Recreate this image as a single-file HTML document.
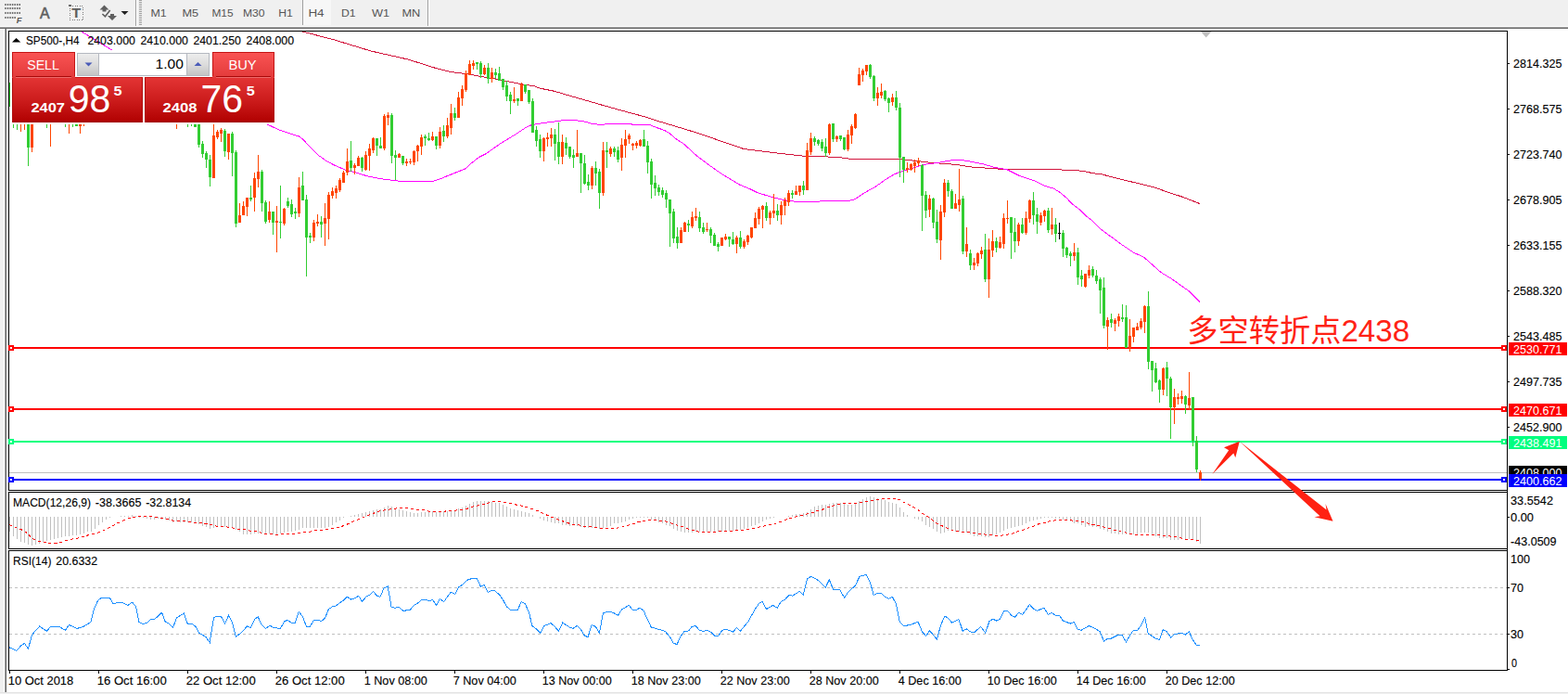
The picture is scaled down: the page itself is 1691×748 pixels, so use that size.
<!DOCTYPE html>
<html><head><meta charset="utf-8"><title>SP500-,H4</title>
<style>
html,body{margin:0;padding:0;background:#fff;overflow:hidden}
body{width:1691px;height:748px;font-family:"Liberation Sans",sans-serif}
svg{display:block;font-family:"Liberation Sans",sans-serif}
text{font-family:"Liberation Sans",sans-serif;white-space:pre}
</style></head><body>
<svg width="1691" height="748" viewBox="0 0 1691 748">
<g shape-rendering="crispEdges">
<rect x="0" y="0" width="1691" height="748" fill="#fff"/>
<rect x="0" y="0" width="1691" height="28" fill="#f0f0f0"/>
<rect x="0" y="29" width="4" height="719" fill="#f0f0f0"/>
<rect x="4" y="29" width="1" height="719" fill="#fff"/>
<rect x="5" y="29" width="1" height="719" fill="#a0a0a0"/>
<rect x="6" y="30" width="1" height="718" fill="#696969"/>
<rect x="0" y="28" width="1691" height="1" fill="#fbfbfb"/>
<rect x="0" y="29" width="1691" height="1" fill="#a0a0a0"/>
<rect x="0" y="30" width="1691" height="1" fill="#696969"/>
<rect x="0" y="746" width="1691" height="1" fill="#e3e3e3"/>
<rect x="0" y="747" width="1691" height="1" fill="#f0f0f0"/>
</g>
<g shape-rendering="crispEdges">
</g>
<path d="M5.2 5H22.6" stroke="#6e6e6e" stroke-width="2" stroke-dasharray="1.5 1.05" fill="none"/>
<path d="M5.2 9H22.6" stroke="#6e6e6e" stroke-width="2" stroke-dasharray="1.5 1.05" fill="none"/>
<path d="M5.2 14H22.6" stroke="#6e6e6e" stroke-width="2" stroke-dasharray="1.5 1.05" fill="none"/>
<path d="M5.2 19H17.4" stroke="#6e6e6e" stroke-width="2" stroke-dasharray="1.5 1.05" fill="none"/>
<g shape-rendering="crispEdges">
<path d="M75.5 6.5H89.5V21.5H75.5Z" stroke="#787878" stroke-dasharray="1 1.5" fill="none"/>
<rect x="74" y="5" width="3" height="2" fill="#6a6a6a"/>
<rect x="146" y="0" width="1" height="28" fill="#a0a0a0"/>
<rect x="147" y="0" width="1" height="28" fill="#fff"/>
<rect x="150" y="0" width="3" height="1" fill="#a0a0a0"/>
<rect x="150" y="2" width="3" height="1" fill="#a0a0a0"/>
<rect x="150" y="4" width="3" height="1" fill="#a0a0a0"/>
<rect x="150" y="6" width="3" height="1" fill="#a0a0a0"/>
<rect x="150" y="8" width="3" height="1" fill="#a0a0a0"/>
<rect x="150" y="10" width="3" height="1" fill="#a0a0a0"/>
<rect x="150" y="12" width="3" height="1" fill="#a0a0a0"/>
<rect x="150" y="14" width="3" height="1" fill="#a0a0a0"/>
<rect x="150" y="16" width="3" height="1" fill="#a0a0a0"/>
<rect x="150" y="18" width="3" height="1" fill="#a0a0a0"/>
<rect x="150" y="20" width="3" height="1" fill="#a0a0a0"/>
<rect x="150" y="22" width="3" height="1" fill="#a0a0a0"/>
<rect x="150" y="24" width="3" height="1" fill="#a0a0a0"/>
<rect x="150" y="26" width="3" height="1" fill="#a0a0a0"/>
<rect x="326" y="0" width="31" height="27" fill="#f7f7f7"/>
<rect x="326" y="0" width="1" height="27" fill="#a0a0a0"/>
<rect x="461" y="0" width="1" height="28" fill="#a0a0a0"/>
<rect x="462" y="0" width="1" height="28" fill="#fff"/>
</g>
<text x="17.8" y="24.7" font-size="9.4" fill="#555" font-weight="bold" font-style="italic">F</text>
<text x="43.1" y="19.7" font-size="15.8" fill="#5f5f5f" stroke="#5f5f5f" stroke-width="0.6">A</text>
<text x="77.3" y="19.2" font-size="14.5" fill="#5f5f5f" textLength="10" lengthAdjust="spacingAndGlyphs" font-weight="bold">T</text>
<path d="M112.5 5.5L117.5 10.5H114.5V12.5H110.5V10.5H107.5Z" fill="#5f5f5f"/>
<path d="M121 22L116 17H119V15H123V17H126Z" fill="#5f5f5f"/>
<path d="M110.4 15L113.4 17.8L118.7 11" stroke="#5f5f5f" stroke-width="1.6" fill="none"/>
<path d="M130.5 12H138.5L134.5 16Z" fill="#222"/>
<text x="162.4" y="18" font-size="11.7" fill="#555" textLength="17.2" lengthAdjust="spacingAndGlyphs">M1</text>
<text x="196.4" y="18" font-size="11.7" fill="#555" textLength="17.7" lengthAdjust="spacingAndGlyphs">M5</text>
<text x="228.4" y="18" font-size="11.7" fill="#555" textLength="23.2" lengthAdjust="spacingAndGlyphs">M15</text>
<text x="262.0" y="18" font-size="11.7" fill="#555" textLength="23.6" lengthAdjust="spacingAndGlyphs">M30</text>
<text x="300.2" y="18" font-size="11.7" fill="#555" textLength="15.6" lengthAdjust="spacingAndGlyphs">H1</text>
<text x="332.4" y="18" font-size="11.7" fill="#555" textLength="17.2" lengthAdjust="spacingAndGlyphs">H4</text>
<text x="367.9" y="18" font-size="11.7" fill="#555" textLength="15.7" lengthAdjust="spacingAndGlyphs">D1</text>
<text x="401.0" y="18" font-size="11.7" fill="#555" textLength="19.1" lengthAdjust="spacingAndGlyphs">W1</text>
<text x="433.4" y="18" font-size="11.7" fill="#555" textLength="19.9" lengthAdjust="spacingAndGlyphs">MN</text>
<g shape-rendering="crispEdges">
<path d="M9.5 33.5H1625.5V528.5H9.5Z" fill="none" stroke="#000"/>
<path d="M9.5 530.5H1625.5V591.5H9.5Z" fill="none" stroke="#000"/>
<path d="M9.5 593.5H1625.5V722.5H9.5Z" fill="none" stroke="#000"/>
</g>
<path d="M1295 34H1306.5L1300.7 40.5Z" fill="#c0c0c0"/>
<defs><clipPath id="cm"><rect x="10" y="34" width="1615" height="494"/></clipPath><clipPath id="c2"><rect x="10" y="531" width="1615" height="60"/></clipPath><clipPath id="c3"><rect x="10" y="594" width="1615" height="128"/></clipPath><linearGradient id="gs" x1="0" y1="0" x2="0" y2="1"><stop offset="0" stop-color="#fa5454"/><stop offset="1" stop-color="#e23a3a"/></linearGradient><linearGradient id="gp" x1="0" y1="0" x2="0" y2="1"><stop offset="0" stop-color="#e33434"/><stop offset="0.5" stop-color="#cc1c1c"/><stop offset="1" stop-color="#b00000"/></linearGradient><linearGradient id="gb" x1="0" y1="0" x2="0" y2="1"><stop offset="0" stop-color="#ededed"/><stop offset="0.5" stop-color="#dcdcdc"/><stop offset="1" stop-color="#c4c4c4"/></linearGradient></defs>
<g shape-rendering="crispEdges">
<rect x="10" y="509" width="1615" height="1" fill="#c0c0c0"/>
<rect x="10" y="374" width="1615" height="2" fill="#ff0000"/>
<rect x="9" y="372" width="6" height="6" fill="#ff0000"/>
<rect x="11" y="374" width="2" height="2" fill="#fff"/>
<rect x="1619" y="372" width="6" height="6" fill="#ff0000"/>
<rect x="1621" y="374" width="2" height="2" fill="#fff"/>
<rect x="10" y="440" width="1615" height="2" fill="#ff0000"/>
<rect x="9" y="438" width="6" height="6" fill="#ff0000"/>
<rect x="11" y="440" width="2" height="2" fill="#fff"/>
<rect x="1619" y="438" width="6" height="6" fill="#ff0000"/>
<rect x="1621" y="440" width="2" height="2" fill="#fff"/>
<rect x="10" y="475" width="1615" height="2" fill="#00ff7f"/>
<rect x="9" y="473" width="6" height="6" fill="#00ff7f"/>
<rect x="11" y="475" width="2" height="2" fill="#fff"/>
<rect x="1619" y="473" width="6" height="6" fill="#00ff7f"/>
<rect x="1621" y="475" width="2" height="2" fill="#fff"/>
<rect x="10" y="516" width="1615" height="2" fill="#0000ff"/>
<rect x="9" y="514" width="6" height="6" fill="#0000ff"/>
<rect x="11" y="516" width="2" height="2" fill="#fff"/>
<rect x="1619" y="514" width="6" height="6" fill="#0000ff"/>
<rect x="1621" y="516" width="2" height="2" fill="#fff"/>
<rect x="1625" y="33" width="1" height="690" fill="#000"/>
</g>
<g clip-path="url(#cm)">
<path d="M322 32 L326 34 L360 42.8 L400 55 L440 64 L470 73.5 L486 77.5 L502 79.5 L518 82.3 L534 85 L550 88.2 L566 91.4 L576 92.7 L582 95.1 L598 98.3 L614 103.1 L630 107.6 L646 112.3 L670 119 L694 125.5 L710 130.6 L726 135.4 L742 140.2 L756 144.6 L780 153 L802 160.5 L826 163.5 L850 166.4 L868 168.3 L900 169.2 L908 170 L918 171.5 L970 171.5 L980 172.5 L1000 174.9 L1014 176.1 L1030 177.3 L1050 180.3 L1070 181.5 L1080 182.3 L1144 182.3 L1146 183.5 L1160 183.5 L1170 184.9 L1180 186.9 L1188 187.8 L1200 191 L1216 194.9 L1232 198.8 L1246 202.3 L1260 207.3 L1274 211.8 L1286 216.4 L1294 219.6" fill="none" stroke="#d2143c" stroke-width="1" shape-rendering="crispEdges"/>
<path d="M285 132.5 L289 134.4 L301 140 L313 144 L322.5 147 L327 150.5 L335 159 L343.5 167.4 L352 173.6 L360.5 178 L372 183 L386 186.6 L396 189.8 L410 192.6 L426 194.7 L436 195.6 L450 195.6 L468 195.1 L476 192.3 L486 188.2 L494 185 L502 181.8 L508 176.2 L516 169.8 L524 165.7 L540 154.5 L556 144.8 L568 136.8 L574 134.4 L590 132 L606 129.9 L618 129.3 L630 131 L638 133.2 L646 134.3 L656 133.8 L664 133 L680 133 L682 134.3 L700 134.3 L708 137.5 L716 140.2 L722 143.5 L728 149 L738 155.5 L748 165 L756 171.5 L760 174.4 L770 181.7 L780 188.6 L790 194.5 L798 199.3 L808 203.3 L816 207.3 L826 210.5 L834 212.9 L846 215.7 L858 217.3 L876 217.3 L900 216.4 L916 216.4 L922 214.6 L934 206.8 L944 201.4 L954 194.2 L964 188.1 L970 185.5 L982 182.1 L992 178.5 L1000 176.7 L1012 175.5 L1020 173.7 L1030 172.3 L1036 172.3 L1044 173.7 L1060 176.7 L1072 180.3 L1086 182.8 L1092 185.8 L1100 189.7 L1110 193 L1116 194.9 L1124 199.1 L1130 201.4 L1136 203 L1142 206.6 L1150 213.1 L1156 219.6 L1164 225.5 L1172 233.3 L1178 237.9 L1186 246.2 L1198 255 L1210 263.9 L1222 271.9 L1234 277.5 L1242 284.7 L1252 293.6 L1264 300.8 L1274 308 L1282 313.6 L1294 325.6" fill="none" stroke="#ff00ff" stroke-width="1" shape-rendering="crispEdges"/>
<path d="M86 32 L88 34 L104 44 L120 53.5 L126 57" fill="none" stroke="#ff00ff" stroke-width="1" shape-rendering="crispEdges"/>
<g shape-rendering="crispEdges">
<rect x="10" y="89" width="1" height="26" fill="#32cd32"/>
<rect x="14" y="120" width="1" height="18" fill="#32cd32"/>
<rect x="13" y="125" width="3" height="9" fill="#32cd32"/>
<rect x="18" y="120" width="1" height="20" fill="#32cd32"/>
<rect x="17" y="125" width="3" height="9" fill="#32cd32"/>
<rect x="22" y="120" width="1" height="22" fill="#ff4500"/>
<rect x="21" y="125" width="3" height="9" fill="#ff4500"/>
<rect x="26" y="120" width="1" height="20" fill="#ff4500"/>
<rect x="25" y="125" width="3" height="9" fill="#ff4500"/>
<rect x="30" y="120" width="1" height="59" fill="#32cd32"/>
<rect x="29" y="125" width="3" height="34" fill="#32cd32"/>
<rect x="34" y="120" width="1" height="44" fill="#ff4500"/>
<rect x="33" y="125" width="3" height="34" fill="#ff4500"/>
<rect x="50" y="120" width="1" height="18" fill="#32cd32"/>
<rect x="49" y="125" width="3" height="9" fill="#32cd32"/>
<rect x="54" y="120" width="1" height="38" fill="#ff4500"/>
<rect x="53" y="125" width="3" height="9" fill="#ff4500"/>
<rect x="70" y="120" width="1" height="17" fill="#32cd32"/>
<rect x="69" y="125" width="3" height="9" fill="#32cd32"/>
<rect x="74" y="120" width="1" height="24" fill="#ff4500"/>
<rect x="73" y="125" width="3" height="9" fill="#ff4500"/>
<rect x="78" y="120" width="1" height="17" fill="#32cd32"/>
<rect x="77" y="125" width="3" height="9" fill="#32cd32"/>
<rect x="82" y="120" width="1" height="16" fill="#32cd32"/>
<rect x="81" y="125" width="3" height="11" fill="#32cd32"/>
<rect x="86" y="120" width="1" height="24" fill="#ff4500"/>
<rect x="85" y="125" width="3" height="11" fill="#ff4500"/>
<rect x="90" y="120" width="1" height="16" fill="#ff4500"/>
<rect x="89" y="125" width="3" height="9" fill="#ff4500"/>
<rect x="190" y="120" width="1" height="19" fill="#ff4500"/>
<rect x="189" y="125" width="3" height="9" fill="#ff4500"/>
<rect x="202" y="120" width="1" height="17" fill="#32cd32"/>
<rect x="201" y="125" width="3" height="9" fill="#32cd32"/>
<rect x="206" y="120" width="1" height="16" fill="#32cd32"/>
<rect x="205" y="125" width="3" height="9" fill="#32cd32"/>
<rect x="210" y="120" width="1" height="17" fill="#32cd32"/>
<rect x="209" y="125" width="3" height="12" fill="#32cd32"/>
<rect x="214" y="120" width="1" height="39" fill="#32cd32"/>
<rect x="213" y="125" width="3" height="31" fill="#32cd32"/>
<rect x="218" y="152" width="1" height="18" fill="#32cd32"/>
<rect x="217" y="155" width="3" height="11" fill="#32cd32"/>
<rect x="222" y="163" width="1" height="18" fill="#32cd32"/>
<rect x="221" y="165" width="3" height="7" fill="#32cd32"/>
<rect x="226" y="167" width="1" height="34" fill="#32cd32"/>
<rect x="225" y="172" width="3" height="19" fill="#32cd32"/>
<rect x="230" y="134" width="1" height="58" fill="#ff4500"/>
<rect x="229" y="146" width="3" height="46" fill="#ff4500"/>
<rect x="234" y="140" width="1" height="10" fill="#ff4500"/>
<rect x="233" y="142" width="3" height="6" fill="#ff4500"/>
<rect x="238" y="138" width="1" height="15" fill="#ff4500"/>
<rect x="237" y="140" width="3" height="4" fill="#ff4500"/>
<rect x="242" y="139" width="1" height="30" fill="#32cd32"/>
<rect x="241" y="141" width="3" height="22" fill="#32cd32"/>
<rect x="246" y="144" width="1" height="28" fill="#ff4500"/>
<rect x="245" y="144" width="3" height="20" fill="#ff4500"/>
<rect x="250" y="142" width="1" height="48" fill="#32cd32"/>
<rect x="249" y="144" width="3" height="21" fill="#32cd32"/>
<rect x="254" y="162" width="1" height="83" fill="#32cd32"/>
<rect x="253" y="164" width="3" height="77" fill="#32cd32"/>
<rect x="258" y="219" width="1" height="21" fill="#ff4500"/>
<rect x="257" y="232" width="3" height="8" fill="#ff4500"/>
<rect x="262" y="217" width="1" height="15" fill="#ff4500"/>
<rect x="261" y="222" width="3" height="10" fill="#ff4500"/>
<rect x="266" y="213" width="1" height="20" fill="#ff4500"/>
<rect x="265" y="213" width="3" height="10" fill="#ff4500"/>
<rect x="270" y="200" width="1" height="17" fill="#32cd32"/>
<rect x="269" y="213" width="3" height="2" fill="#32cd32"/>
<rect x="274" y="186" width="1" height="42" fill="#ff4500"/>
<rect x="273" y="192" width="3" height="21" fill="#ff4500"/>
<rect x="278" y="167" width="1" height="35" fill="#ff4500"/>
<rect x="277" y="185" width="3" height="8" fill="#ff4500"/>
<rect x="282" y="183" width="1" height="45" fill="#32cd32"/>
<rect x="281" y="185" width="3" height="34" fill="#32cd32"/>
<rect x="286" y="216" width="1" height="25" fill="#32cd32"/>
<rect x="285" y="218" width="3" height="21" fill="#32cd32"/>
<rect x="290" y="217" width="1" height="23" fill="#ff4500"/>
<rect x="289" y="228" width="3" height="9" fill="#ff4500"/>
<rect x="294" y="228" width="1" height="25" fill="#32cd32"/>
<rect x="293" y="228" width="3" height="12" fill="#32cd32"/>
<rect x="298" y="222" width="1" height="50" fill="#ff4500"/>
<rect x="297" y="238" width="3" height="2" fill="#ff4500"/>
<rect x="302" y="200" width="1" height="57" fill="#32cd32"/>
<rect x="301" y="239" width="3" height="1" fill="#32cd32"/>
<rect x="306" y="224" width="1" height="19" fill="#ff4500"/>
<rect x="305" y="225" width="3" height="16" fill="#ff4500"/>
<rect x="310" y="213" width="1" height="11" fill="#32cd32"/>
<rect x="309" y="217" width="3" height="5" fill="#32cd32"/>
<rect x="314" y="215" width="1" height="19" fill="#32cd32"/>
<rect x="313" y="220" width="3" height="11" fill="#32cd32"/>
<rect x="318" y="224" width="1" height="12" fill="#32cd32"/>
<rect x="317" y="228" width="3" height="2" fill="#32cd32"/>
<rect x="322" y="191" width="1" height="43" fill="#ff4500"/>
<rect x="321" y="202" width="3" height="28" fill="#ff4500"/>
<rect x="326" y="185" width="1" height="31" fill="#32cd32"/>
<rect x="325" y="200" width="3" height="16" fill="#32cd32"/>
<rect x="330" y="210" width="1" height="88" fill="#32cd32"/>
<rect x="329" y="215" width="3" height="41" fill="#32cd32"/>
<rect x="334" y="251" width="1" height="11" fill="#32cd32"/>
<rect x="333" y="254" width="3" height="2" fill="#32cd32"/>
<rect x="338" y="237" width="1" height="23" fill="#ff4500"/>
<rect x="337" y="240" width="3" height="16" fill="#ff4500"/>
<rect x="342" y="231" width="1" height="13" fill="#ff4500"/>
<rect x="341" y="239" width="3" height="2" fill="#ff4500"/>
<rect x="346" y="233" width="1" height="23" fill="#32cd32"/>
<rect x="345" y="239" width="3" height="3" fill="#32cd32"/>
<rect x="350" y="219" width="1" height="46" fill="#ff4500"/>
<rect x="349" y="235" width="3" height="6" fill="#ff4500"/>
<rect x="354" y="207" width="1" height="51" fill="#ff4500"/>
<rect x="353" y="210" width="3" height="26" fill="#ff4500"/>
<rect x="358" y="202" width="1" height="12" fill="#ff4500"/>
<rect x="357" y="206" width="3" height="5" fill="#ff4500"/>
<rect x="362" y="200" width="1" height="14" fill="#ff4500"/>
<rect x="361" y="203" width="3" height="5" fill="#ff4500"/>
<rect x="366" y="192" width="1" height="15" fill="#ff4500"/>
<rect x="365" y="194" width="3" height="11" fill="#ff4500"/>
<rect x="370" y="184" width="1" height="13" fill="#ff4500"/>
<rect x="369" y="186" width="3" height="11" fill="#ff4500"/>
<rect x="374" y="160" width="1" height="29" fill="#ff4500"/>
<rect x="373" y="174" width="3" height="12" fill="#ff4500"/>
<rect x="378" y="152" width="1" height="33" fill="#32cd32"/>
<rect x="377" y="173" width="3" height="8" fill="#32cd32"/>
<rect x="382" y="176" width="1" height="12" fill="#ff4500"/>
<rect x="381" y="178" width="3" height="3" fill="#ff4500"/>
<rect x="386" y="168" width="1" height="11" fill="#ff4500"/>
<rect x="385" y="170" width="3" height="9" fill="#ff4500"/>
<rect x="390" y="169" width="1" height="16" fill="#32cd32"/>
<rect x="389" y="170" width="3" height="11" fill="#32cd32"/>
<rect x="394" y="163" width="1" height="21" fill="#ff4500"/>
<rect x="393" y="167" width="3" height="16" fill="#ff4500"/>
<rect x="398" y="155" width="1" height="29" fill="#ff4500"/>
<rect x="397" y="160" width="3" height="8" fill="#ff4500"/>
<rect x="402" y="148" width="1" height="17" fill="#ff4500"/>
<rect x="401" y="149" width="3" height="13" fill="#ff4500"/>
<rect x="406" y="149" width="1" height="19" fill="#32cd32"/>
<rect x="405" y="149" width="3" height="8" fill="#32cd32"/>
<rect x="410" y="148" width="1" height="12" fill="#32cd32"/>
<rect x="409" y="157" width="3" height="3" fill="#32cd32"/>
<rect x="414" y="123" width="1" height="39" fill="#ff4500"/>
<rect x="413" y="125" width="3" height="35" fill="#ff4500"/>
<rect x="418" y="121" width="1" height="14" fill="#ff4500"/>
<rect x="417" y="124" width="3" height="3" fill="#ff4500"/>
<rect x="422" y="122" width="1" height="54" fill="#32cd32"/>
<rect x="421" y="124" width="3" height="44" fill="#32cd32"/>
<rect x="426" y="162" width="1" height="32" fill="#32cd32"/>
<rect x="425" y="167" width="3" height="3" fill="#32cd32"/>
<rect x="430" y="165" width="1" height="5" fill="#ff4500"/>
<rect x="429" y="166" width="3" height="4" fill="#ff4500"/>
<rect x="434" y="168" width="1" height="10" fill="#32cd32"/>
<rect x="433" y="168" width="3" height="8" fill="#32cd32"/>
<rect x="438" y="171" width="1" height="8" fill="#ff4500"/>
<rect x="437" y="174" width="3" height="2" fill="#ff4500"/>
<rect x="442" y="171" width="1" height="6" fill="#ff4500"/>
<rect x="441" y="174" width="3" height="1" fill="#ff4500"/>
<rect x="446" y="162" width="1" height="16" fill="#ff4500"/>
<rect x="445" y="163" width="3" height="12" fill="#ff4500"/>
<rect x="450" y="156" width="1" height="18" fill="#ff4500"/>
<rect x="449" y="157" width="3" height="6" fill="#ff4500"/>
<rect x="454" y="145" width="1" height="22" fill="#ff4500"/>
<rect x="453" y="148" width="3" height="10" fill="#ff4500"/>
<rect x="458" y="145" width="1" height="12" fill="#32cd32"/>
<rect x="457" y="147" width="3" height="2" fill="#32cd32"/>
<rect x="462" y="143" width="1" height="9" fill="#32cd32"/>
<rect x="461" y="149" width="3" height="2" fill="#32cd32"/>
<rect x="466" y="142" width="1" height="10" fill="#ff4500"/>
<rect x="465" y="147" width="3" height="4" fill="#ff4500"/>
<rect x="470" y="147" width="1" height="14" fill="#32cd32"/>
<rect x="469" y="147" width="3" height="10" fill="#32cd32"/>
<rect x="474" y="137" width="1" height="23" fill="#ff4500"/>
<rect x="473" y="142" width="3" height="15" fill="#ff4500"/>
<rect x="478" y="135" width="1" height="18" fill="#32cd32"/>
<rect x="477" y="141" width="3" height="6" fill="#32cd32"/>
<rect x="482" y="127" width="1" height="22" fill="#ff4500"/>
<rect x="481" y="135" width="3" height="12" fill="#ff4500"/>
<rect x="486" y="112" width="1" height="33" fill="#ff4500"/>
<rect x="485" y="122" width="3" height="16" fill="#ff4500"/>
<rect x="490" y="116" width="1" height="14" fill="#32cd32"/>
<rect x="489" y="122" width="3" height="5" fill="#32cd32"/>
<rect x="494" y="99" width="1" height="28" fill="#ff4500"/>
<rect x="493" y="105" width="3" height="22" fill="#ff4500"/>
<rect x="498" y="92" width="1" height="22" fill="#ff4500"/>
<rect x="497" y="96" width="3" height="10" fill="#ff4500"/>
<rect x="502" y="76" width="1" height="23" fill="#ff4500"/>
<rect x="501" y="79" width="3" height="18" fill="#ff4500"/>
<rect x="506" y="65" width="1" height="16" fill="#ff4500"/>
<rect x="505" y="69" width="3" height="12" fill="#ff4500"/>
<rect x="510" y="65" width="1" height="10" fill="#ff4500"/>
<rect x="509" y="68" width="3" height="3" fill="#ff4500"/>
<rect x="514" y="67" width="1" height="8" fill="#32cd32"/>
<rect x="513" y="67" width="3" height="2" fill="#32cd32"/>
<rect x="518" y="66" width="1" height="18" fill="#32cd32"/>
<rect x="517" y="68" width="3" height="12" fill="#32cd32"/>
<rect x="522" y="70" width="1" height="11" fill="#ff4500"/>
<rect x="521" y="73" width="3" height="7" fill="#ff4500"/>
<rect x="526" y="68" width="1" height="22" fill="#32cd32"/>
<rect x="525" y="73" width="3" height="12" fill="#32cd32"/>
<rect x="530" y="73" width="1" height="16" fill="#ff4500"/>
<rect x="529" y="78" width="3" height="7" fill="#ff4500"/>
<rect x="534" y="74" width="1" height="11" fill="#32cd32"/>
<rect x="533" y="78" width="3" height="3" fill="#32cd32"/>
<rect x="538" y="72" width="1" height="15" fill="#32cd32"/>
<rect x="537" y="79" width="3" height="8" fill="#32cd32"/>
<rect x="542" y="85" width="1" height="12" fill="#32cd32"/>
<rect x="541" y="85" width="3" height="9" fill="#32cd32"/>
<rect x="546" y="87" width="1" height="22" fill="#32cd32"/>
<rect x="545" y="92" width="3" height="12" fill="#32cd32"/>
<rect x="550" y="99" width="1" height="24" fill="#32cd32"/>
<rect x="549" y="102" width="3" height="7" fill="#32cd32"/>
<rect x="554" y="94" width="1" height="17" fill="#ff4500"/>
<rect x="553" y="107" width="3" height="2" fill="#ff4500"/>
<rect x="558" y="106" width="1" height="8" fill="#32cd32"/>
<rect x="557" y="106" width="3" height="3" fill="#32cd32"/>
<rect x="562" y="89" width="1" height="20" fill="#ff4500"/>
<rect x="561" y="91" width="3" height="18" fill="#ff4500"/>
<rect x="566" y="91" width="1" height="10" fill="#32cd32"/>
<rect x="565" y="91" width="3" height="8" fill="#32cd32"/>
<rect x="570" y="97" width="1" height="15" fill="#32cd32"/>
<rect x="569" y="97" width="3" height="13" fill="#32cd32"/>
<rect x="574" y="106" width="1" height="37" fill="#32cd32"/>
<rect x="573" y="109" width="3" height="34" fill="#32cd32"/>
<rect x="578" y="136" width="1" height="22" fill="#32cd32"/>
<rect x="577" y="140" width="3" height="12" fill="#32cd32"/>
<rect x="582" y="145" width="1" height="25" fill="#32cd32"/>
<rect x="581" y="150" width="3" height="13" fill="#32cd32"/>
<rect x="586" y="148" width="1" height="26" fill="#ff4500"/>
<rect x="585" y="149" width="3" height="14" fill="#ff4500"/>
<rect x="590" y="143" width="1" height="15" fill="#ff4500"/>
<rect x="589" y="148" width="3" height="2" fill="#ff4500"/>
<rect x="594" y="138" width="1" height="20" fill="#ff4500"/>
<rect x="593" y="145" width="3" height="4" fill="#ff4500"/>
<rect x="598" y="139" width="1" height="34" fill="#32cd32"/>
<rect x="597" y="145" width="3" height="10" fill="#32cd32"/>
<rect x="602" y="132" width="1" height="45" fill="#32cd32"/>
<rect x="601" y="153" width="3" height="16" fill="#32cd32"/>
<rect x="606" y="145" width="1" height="32" fill="#ff4500"/>
<rect x="605" y="153" width="3" height="16" fill="#ff4500"/>
<rect x="610" y="148" width="1" height="19" fill="#32cd32"/>
<rect x="609" y="154" width="3" height="6" fill="#32cd32"/>
<rect x="614" y="158" width="1" height="13" fill="#32cd32"/>
<rect x="613" y="158" width="3" height="11" fill="#32cd32"/>
<rect x="618" y="161" width="1" height="20" fill="#32cd32"/>
<rect x="617" y="167" width="3" height="3" fill="#32cd32"/>
<rect x="622" y="140" width="1" height="29" fill="#ff4500"/>
<rect x="621" y="165" width="3" height="4" fill="#ff4500"/>
<rect x="626" y="165" width="1" height="43" fill="#32cd32"/>
<rect x="625" y="165" width="3" height="11" fill="#32cd32"/>
<rect x="630" y="167" width="1" height="32" fill="#32cd32"/>
<rect x="629" y="176" width="3" height="22" fill="#32cd32"/>
<rect x="634" y="188" width="1" height="17" fill="#32cd32"/>
<rect x="633" y="196" width="3" height="4" fill="#32cd32"/>
<rect x="638" y="179" width="1" height="25" fill="#ff4500"/>
<rect x="637" y="181" width="3" height="19" fill="#ff4500"/>
<rect x="642" y="174" width="1" height="26" fill="#32cd32"/>
<rect x="641" y="181" width="3" height="6" fill="#32cd32"/>
<rect x="646" y="182" width="1" height="43" fill="#32cd32"/>
<rect x="645" y="185" width="3" height="23" fill="#32cd32"/>
<rect x="650" y="153" width="1" height="58" fill="#ff4500"/>
<rect x="649" y="162" width="3" height="46" fill="#ff4500"/>
<rect x="654" y="153" width="1" height="28" fill="#32cd32"/>
<rect x="653" y="162" width="3" height="2" fill="#32cd32"/>
<rect x="658" y="158" width="1" height="11" fill="#ff4500"/>
<rect x="657" y="160" width="3" height="6" fill="#ff4500"/>
<rect x="662" y="158" width="1" height="11" fill="#32cd32"/>
<rect x="661" y="160" width="3" height="4" fill="#32cd32"/>
<rect x="666" y="158" width="1" height="17" fill="#32cd32"/>
<rect x="665" y="162" width="3" height="10" fill="#32cd32"/>
<rect x="670" y="149" width="1" height="35" fill="#ff4500"/>
<rect x="669" y="156" width="3" height="14" fill="#ff4500"/>
<rect x="674" y="140" width="1" height="30" fill="#ff4500"/>
<rect x="673" y="150" width="3" height="7" fill="#ff4500"/>
<rect x="678" y="144" width="1" height="11" fill="#ff4500"/>
<rect x="677" y="146" width="3" height="4" fill="#ff4500"/>
<rect x="682" y="154" width="1" height="8" fill="#ff4500"/>
<rect x="681" y="155" width="3" height="2" fill="#ff4500"/>
<rect x="686" y="152" width="1" height="8" fill="#ff4500"/>
<rect x="685" y="154" width="3" height="3" fill="#ff4500"/>
<rect x="690" y="150" width="1" height="8" fill="#ff4500"/>
<rect x="689" y="151" width="3" height="6" fill="#ff4500"/>
<rect x="694" y="140" width="1" height="18" fill="#32cd32"/>
<rect x="693" y="150" width="3" height="8" fill="#32cd32"/>
<rect x="698" y="152" width="1" height="35" fill="#32cd32"/>
<rect x="697" y="157" width="3" height="18" fill="#32cd32"/>
<rect x="702" y="171" width="1" height="43" fill="#32cd32"/>
<rect x="701" y="174" width="3" height="25" fill="#32cd32"/>
<rect x="706" y="189" width="1" height="22" fill="#32cd32"/>
<rect x="705" y="197" width="3" height="6" fill="#32cd32"/>
<rect x="710" y="199" width="1" height="12" fill="#32cd32"/>
<rect x="709" y="202" width="3" height="5" fill="#32cd32"/>
<rect x="714" y="202" width="1" height="11" fill="#32cd32"/>
<rect x="713" y="205" width="3" height="5" fill="#32cd32"/>
<rect x="718" y="205" width="1" height="19" fill="#32cd32"/>
<rect x="717" y="208" width="3" height="7" fill="#32cd32"/>
<rect x="722" y="215" width="1" height="51" fill="#32cd32"/>
<rect x="721" y="215" width="3" height="15" fill="#32cd32"/>
<rect x="726" y="225" width="1" height="37" fill="#32cd32"/>
<rect x="725" y="228" width="3" height="29" fill="#32cd32"/>
<rect x="730" y="245" width="1" height="23" fill="#32cd32"/>
<rect x="729" y="255" width="3" height="7" fill="#32cd32"/>
<rect x="734" y="245" width="1" height="17" fill="#ff4500"/>
<rect x="733" y="248" width="3" height="14" fill="#ff4500"/>
<rect x="738" y="239" width="1" height="11" fill="#ff4500"/>
<rect x="737" y="240" width="3" height="10" fill="#ff4500"/>
<rect x="742" y="237" width="1" height="13" fill="#32cd32"/>
<rect x="741" y="241" width="3" height="2" fill="#32cd32"/>
<rect x="746" y="228" width="1" height="18" fill="#ff4500"/>
<rect x="745" y="234" width="3" height="10" fill="#ff4500"/>
<rect x="750" y="224" width="1" height="14" fill="#ff4500"/>
<rect x="749" y="233" width="3" height="2" fill="#ff4500"/>
<rect x="754" y="228" width="1" height="22" fill="#32cd32"/>
<rect x="753" y="234" width="3" height="12" fill="#32cd32"/>
<rect x="758" y="240" width="1" height="12" fill="#32cd32"/>
<rect x="757" y="245" width="3" height="5" fill="#32cd32"/>
<rect x="762" y="240" width="1" height="10" fill="#ff4500"/>
<rect x="761" y="247" width="3" height="1" fill="#ff4500"/>
<rect x="766" y="245" width="1" height="17" fill="#32cd32"/>
<rect x="765" y="247" width="3" height="7" fill="#32cd32"/>
<rect x="770" y="251" width="1" height="14" fill="#32cd32"/>
<rect x="769" y="253" width="3" height="12" fill="#32cd32"/>
<rect x="774" y="261" width="1" height="10" fill="#32cd32"/>
<rect x="773" y="263" width="3" height="3" fill="#32cd32"/>
<rect x="778" y="256" width="1" height="9" fill="#ff4500"/>
<rect x="777" y="256" width="3" height="9" fill="#ff4500"/>
<rect x="782" y="252" width="1" height="7" fill="#ff4500"/>
<rect x="781" y="255" width="3" height="3" fill="#ff4500"/>
<rect x="786" y="255" width="1" height="11" fill="#32cd32"/>
<rect x="785" y="255" width="3" height="3" fill="#32cd32"/>
<rect x="790" y="250" width="1" height="14" fill="#32cd32"/>
<rect x="789" y="258" width="3" height="5" fill="#32cd32"/>
<rect x="794" y="254" width="1" height="19" fill="#ff4500"/>
<rect x="793" y="256" width="3" height="7" fill="#ff4500"/>
<rect x="798" y="249" width="1" height="19" fill="#32cd32"/>
<rect x="797" y="256" width="3" height="10" fill="#32cd32"/>
<rect x="802" y="258" width="1" height="10" fill="#ff4500"/>
<rect x="801" y="260" width="3" height="6" fill="#ff4500"/>
<rect x="806" y="253" width="1" height="11" fill="#ff4500"/>
<rect x="805" y="254" width="3" height="7" fill="#ff4500"/>
<rect x="810" y="245" width="1" height="12" fill="#ff4500"/>
<rect x="809" y="245" width="3" height="11" fill="#ff4500"/>
<rect x="814" y="229" width="1" height="17" fill="#ff4500"/>
<rect x="813" y="235" width="3" height="11" fill="#ff4500"/>
<rect x="818" y="223" width="1" height="19" fill="#ff4500"/>
<rect x="817" y="225" width="3" height="11" fill="#ff4500"/>
<rect x="822" y="221" width="1" height="25" fill="#ff4500"/>
<rect x="821" y="222" width="3" height="4" fill="#ff4500"/>
<rect x="826" y="218" width="1" height="20" fill="#32cd32"/>
<rect x="825" y="222" width="3" height="13" fill="#32cd32"/>
<rect x="830" y="227" width="1" height="15" fill="#ff4500"/>
<rect x="829" y="229" width="3" height="6" fill="#ff4500"/>
<rect x="834" y="209" width="1" height="26" fill="#ff4500"/>
<rect x="833" y="227" width="3" height="3" fill="#ff4500"/>
<rect x="838" y="220" width="1" height="18" fill="#32cd32"/>
<rect x="837" y="227" width="3" height="5" fill="#32cd32"/>
<rect x="842" y="217" width="1" height="25" fill="#ff4500"/>
<rect x="841" y="221" width="3" height="11" fill="#ff4500"/>
<rect x="846" y="213" width="1" height="19" fill="#ff4500"/>
<rect x="845" y="216" width="3" height="6" fill="#ff4500"/>
<rect x="850" y="205" width="1" height="17" fill="#ff4500"/>
<rect x="849" y="208" width="3" height="10" fill="#ff4500"/>
<rect x="854" y="205" width="1" height="9" fill="#32cd32"/>
<rect x="853" y="208" width="3" height="2" fill="#32cd32"/>
<rect x="858" y="200" width="1" height="10" fill="#ff4500"/>
<rect x="857" y="206" width="3" height="4" fill="#ff4500"/>
<rect x="862" y="200" width="1" height="11" fill="#ff4500"/>
<rect x="861" y="200" width="3" height="7" fill="#ff4500"/>
<rect x="866" y="195" width="1" height="15" fill="#32cd32"/>
<rect x="865" y="200" width="3" height="5" fill="#32cd32"/>
<rect x="870" y="154" width="1" height="51" fill="#ff4500"/>
<rect x="869" y="162" width="3" height="43" fill="#ff4500"/>
<rect x="874" y="143" width="1" height="24" fill="#ff4500"/>
<rect x="873" y="149" width="3" height="15" fill="#ff4500"/>
<rect x="878" y="147" width="1" height="10" fill="#32cd32"/>
<rect x="877" y="149" width="3" height="4" fill="#32cd32"/>
<rect x="882" y="150" width="1" height="7" fill="#32cd32"/>
<rect x="881" y="151" width="3" height="4" fill="#32cd32"/>
<rect x="886" y="150" width="1" height="13" fill="#32cd32"/>
<rect x="885" y="153" width="3" height="7" fill="#32cd32"/>
<rect x="890" y="149" width="1" height="20" fill="#32cd32"/>
<rect x="889" y="158" width="3" height="7" fill="#32cd32"/>
<rect x="894" y="133" width="1" height="34" fill="#ff4500"/>
<rect x="893" y="134" width="3" height="31" fill="#ff4500"/>
<rect x="898" y="133" width="1" height="20" fill="#32cd32"/>
<rect x="897" y="133" width="3" height="17" fill="#32cd32"/>
<rect x="902" y="146" width="1" height="7" fill="#ff4500"/>
<rect x="901" y="147" width="3" height="3" fill="#ff4500"/>
<rect x="906" y="146" width="1" height="6" fill="#32cd32"/>
<rect x="905" y="146" width="3" height="4" fill="#32cd32"/>
<rect x="910" y="148" width="1" height="14" fill="#32cd32"/>
<rect x="909" y="148" width="3" height="13" fill="#32cd32"/>
<rect x="914" y="140" width="1" height="23" fill="#ff4500"/>
<rect x="913" y="145" width="3" height="16" fill="#ff4500"/>
<rect x="918" y="134" width="1" height="21" fill="#ff4500"/>
<rect x="917" y="136" width="3" height="10" fill="#ff4500"/>
<rect x="922" y="122" width="1" height="17" fill="#ff4500"/>
<rect x="921" y="123" width="3" height="15" fill="#ff4500"/>
<rect x="926" y="73" width="1" height="19" fill="#ff4500"/>
<rect x="925" y="80" width="3" height="12" fill="#ff4500"/>
<rect x="930" y="74" width="1" height="14" fill="#ff4500"/>
<rect x="929" y="76" width="3" height="5" fill="#ff4500"/>
<rect x="934" y="70" width="1" height="11" fill="#ff4500"/>
<rect x="933" y="70" width="3" height="7" fill="#ff4500"/>
<rect x="938" y="69" width="1" height="16" fill="#32cd32"/>
<rect x="937" y="70" width="3" height="13" fill="#32cd32"/>
<rect x="942" y="81" width="1" height="28" fill="#32cd32"/>
<rect x="941" y="82" width="3" height="24" fill="#32cd32"/>
<rect x="946" y="94" width="1" height="20" fill="#ff4500"/>
<rect x="945" y="100" width="3" height="6" fill="#ff4500"/>
<rect x="950" y="90" width="1" height="16" fill="#ff4500"/>
<rect x="949" y="99" width="3" height="4" fill="#ff4500"/>
<rect x="954" y="97" width="1" height="12" fill="#32cd32"/>
<rect x="953" y="98" width="3" height="9" fill="#32cd32"/>
<rect x="958" y="105" width="1" height="16" fill="#32cd32"/>
<rect x="957" y="106" width="3" height="5" fill="#32cd32"/>
<rect x="962" y="101" width="1" height="13" fill="#ff4500"/>
<rect x="961" y="105" width="3" height="5" fill="#ff4500"/>
<rect x="966" y="98" width="1" height="21" fill="#32cd32"/>
<rect x="965" y="105" width="3" height="11" fill="#32cd32"/>
<rect x="970" y="111" width="1" height="80" fill="#32cd32"/>
<rect x="969" y="116" width="3" height="54" fill="#32cd32"/>
<rect x="974" y="169" width="1" height="28" fill="#32cd32"/>
<rect x="973" y="169" width="3" height="14" fill="#32cd32"/>
<rect x="978" y="175" width="1" height="11" fill="#ff4500"/>
<rect x="977" y="181" width="3" height="2" fill="#ff4500"/>
<rect x="982" y="176" width="1" height="8" fill="#ff4500"/>
<rect x="981" y="177" width="3" height="6" fill="#ff4500"/>
<rect x="986" y="172" width="1" height="14" fill="#ff4500"/>
<rect x="985" y="175" width="3" height="4" fill="#ff4500"/>
<rect x="990" y="170" width="1" height="9" fill="#ff4500"/>
<rect x="989" y="173" width="3" height="3" fill="#ff4500"/>
<rect x="994" y="177" width="1" height="72" fill="#32cd32"/>
<rect x="993" y="178" width="3" height="33" fill="#32cd32"/>
<rect x="998" y="206" width="1" height="29" fill="#32cd32"/>
<rect x="997" y="210" width="3" height="17" fill="#32cd32"/>
<rect x="1002" y="210" width="1" height="24" fill="#ff4500"/>
<rect x="1001" y="214" width="3" height="12" fill="#ff4500"/>
<rect x="1006" y="213" width="1" height="33" fill="#32cd32"/>
<rect x="1005" y="214" width="3" height="26" fill="#32cd32"/>
<rect x="1010" y="226" width="1" height="36" fill="#32cd32"/>
<rect x="1009" y="239" width="3" height="19" fill="#32cd32"/>
<rect x="1014" y="221" width="1" height="59" fill="#ff4500"/>
<rect x="1013" y="228" width="3" height="31" fill="#ff4500"/>
<rect x="1018" y="193" width="1" height="41" fill="#ff4500"/>
<rect x="1017" y="197" width="3" height="32" fill="#ff4500"/>
<rect x="1022" y="194" width="1" height="18" fill="#32cd32"/>
<rect x="1021" y="197" width="3" height="9" fill="#32cd32"/>
<rect x="1026" y="204" width="1" height="21" fill="#32cd32"/>
<rect x="1025" y="206" width="3" height="19" fill="#32cd32"/>
<rect x="1030" y="209" width="1" height="16" fill="#ff4500"/>
<rect x="1029" y="219" width="3" height="6" fill="#ff4500"/>
<rect x="1034" y="182" width="1" height="46" fill="#ff4500"/>
<rect x="1033" y="215" width="3" height="6" fill="#ff4500"/>
<rect x="1038" y="211" width="1" height="63" fill="#32cd32"/>
<rect x="1037" y="214" width="3" height="57" fill="#32cd32"/>
<rect x="1042" y="245" width="1" height="32" fill="#ff4500"/>
<rect x="1041" y="263" width="3" height="8" fill="#ff4500"/>
<rect x="1046" y="269" width="1" height="22" fill="#32cd32"/>
<rect x="1045" y="273" width="3" height="13" fill="#32cd32"/>
<rect x="1050" y="278" width="1" height="13" fill="#ff4500"/>
<rect x="1049" y="283" width="3" height="3" fill="#ff4500"/>
<rect x="1054" y="272" width="1" height="15" fill="#ff4500"/>
<rect x="1053" y="273" width="3" height="11" fill="#ff4500"/>
<rect x="1058" y="266" width="1" height="13" fill="#ff4500"/>
<rect x="1057" y="270" width="3" height="4" fill="#ff4500"/>
<rect x="1062" y="252" width="1" height="52" fill="#32cd32"/>
<rect x="1061" y="269" width="3" height="32" fill="#32cd32"/>
<rect x="1066" y="257" width="1" height="64" fill="#ff4500"/>
<rect x="1065" y="269" width="3" height="32" fill="#ff4500"/>
<rect x="1070" y="248" width="1" height="29" fill="#ff4500"/>
<rect x="1069" y="260" width="3" height="10" fill="#ff4500"/>
<rect x="1074" y="256" width="1" height="16" fill="#32cd32"/>
<rect x="1073" y="260" width="3" height="7" fill="#32cd32"/>
<rect x="1078" y="255" width="1" height="13" fill="#ff4500"/>
<rect x="1077" y="261" width="3" height="6" fill="#ff4500"/>
<rect x="1082" y="230" width="1" height="38" fill="#ff4500"/>
<rect x="1081" y="235" width="3" height="28" fill="#ff4500"/>
<rect x="1086" y="216" width="1" height="25" fill="#ff4500"/>
<rect x="1085" y="235" width="3" height="1" fill="#ff4500"/>
<rect x="1090" y="234" width="1" height="45" fill="#32cd32"/>
<rect x="1089" y="234" width="3" height="17" fill="#32cd32"/>
<rect x="1094" y="235" width="1" height="37" fill="#32cd32"/>
<rect x="1093" y="250" width="3" height="10" fill="#32cd32"/>
<rect x="1098" y="240" width="1" height="25" fill="#ff4500"/>
<rect x="1097" y="242" width="3" height="18" fill="#ff4500"/>
<rect x="1102" y="235" width="1" height="17" fill="#32cd32"/>
<rect x="1101" y="242" width="3" height="9" fill="#32cd32"/>
<rect x="1106" y="228" width="1" height="25" fill="#ff4500"/>
<rect x="1105" y="235" width="3" height="16" fill="#ff4500"/>
<rect x="1110" y="215" width="1" height="25" fill="#ff4500"/>
<rect x="1109" y="216" width="3" height="20" fill="#ff4500"/>
<rect x="1114" y="207" width="1" height="35" fill="#32cd32"/>
<rect x="1113" y="216" width="3" height="16" fill="#32cd32"/>
<rect x="1118" y="224" width="1" height="28" fill="#32cd32"/>
<rect x="1117" y="231" width="3" height="8" fill="#32cd32"/>
<rect x="1122" y="229" width="1" height="14" fill="#ff4500"/>
<rect x="1121" y="232" width="3" height="8" fill="#ff4500"/>
<rect x="1126" y="226" width="1" height="13" fill="#ff4500"/>
<rect x="1125" y="227" width="3" height="6" fill="#ff4500"/>
<rect x="1130" y="224" width="1" height="27" fill="#32cd32"/>
<rect x="1129" y="227" width="3" height="21" fill="#32cd32"/>
<rect x="1134" y="224" width="1" height="29" fill="#ff4500"/>
<rect x="1133" y="242" width="3" height="5" fill="#ff4500"/>
<rect x="1138" y="235" width="1" height="26" fill="#32cd32"/>
<rect x="1137" y="242" width="3" height="10" fill="#32cd32"/>
<rect x="1142" y="240" width="1" height="18" fill="#000"/>
<rect x="1141" y="251" width="3" height="1" fill="#000"/>
<rect x="1146" y="248" width="1" height="29" fill="#32cd32"/>
<rect x="1145" y="251" width="3" height="17" fill="#32cd32"/>
<rect x="1150" y="266" width="1" height="12" fill="#32cd32"/>
<rect x="1149" y="267" width="3" height="8" fill="#32cd32"/>
<rect x="1154" y="271" width="1" height="16" fill="#32cd32"/>
<rect x="1153" y="273" width="3" height="3" fill="#32cd32"/>
<rect x="1158" y="262" width="1" height="19" fill="#ff4500"/>
<rect x="1157" y="272" width="3" height="4" fill="#ff4500"/>
<rect x="1162" y="267" width="1" height="40" fill="#32cd32"/>
<rect x="1161" y="272" width="3" height="27" fill="#32cd32"/>
<rect x="1166" y="291" width="1" height="18" fill="#32cd32"/>
<rect x="1165" y="297" width="3" height="4" fill="#32cd32"/>
<rect x="1170" y="295" width="1" height="15" fill="#ff4500"/>
<rect x="1169" y="295" width="3" height="14" fill="#ff4500"/>
<rect x="1174" y="286" width="1" height="14" fill="#ff4500"/>
<rect x="1173" y="291" width="3" height="6" fill="#ff4500"/>
<rect x="1178" y="287" width="1" height="12" fill="#32cd32"/>
<rect x="1177" y="290" width="3" height="7" fill="#32cd32"/>
<rect x="1182" y="291" width="1" height="15" fill="#32cd32"/>
<rect x="1181" y="297" width="3" height="6" fill="#32cd32"/>
<rect x="1186" y="299" width="1" height="39" fill="#32cd32"/>
<rect x="1185" y="301" width="3" height="12" fill="#32cd32"/>
<rect x="1190" y="299" width="1" height="55" fill="#32cd32"/>
<rect x="1189" y="310" width="3" height="41" fill="#32cd32"/>
<rect x="1194" y="342" width="1" height="35" fill="#ff4500"/>
<rect x="1193" y="345" width="3" height="7" fill="#ff4500"/>
<rect x="1198" y="338" width="1" height="15" fill="#32cd32"/>
<rect x="1197" y="344" width="3" height="4" fill="#32cd32"/>
<rect x="1202" y="343" width="1" height="14" fill="#ff4500"/>
<rect x="1201" y="345" width="3" height="4" fill="#ff4500"/>
<rect x="1206" y="338" width="1" height="14" fill="#ff4500"/>
<rect x="1205" y="341" width="3" height="5" fill="#ff4500"/>
<rect x="1210" y="328" width="1" height="19" fill="#32cd32"/>
<rect x="1209" y="342" width="3" height="2" fill="#32cd32"/>
<rect x="1214" y="329" width="1" height="46" fill="#32cd32"/>
<rect x="1213" y="342" width="3" height="33" fill="#32cd32"/>
<rect x="1218" y="344" width="1" height="35" fill="#ff4500"/>
<rect x="1217" y="362" width="3" height="13" fill="#ff4500"/>
<rect x="1222" y="353" width="1" height="16" fill="#ff4500"/>
<rect x="1221" y="353" width="3" height="10" fill="#ff4500"/>
<rect x="1226" y="348" width="1" height="8" fill="#ff4500"/>
<rect x="1225" y="352" width="3" height="4" fill="#ff4500"/>
<rect x="1230" y="343" width="1" height="12" fill="#ff4500"/>
<rect x="1229" y="346" width="3" height="7" fill="#ff4500"/>
<rect x="1234" y="329" width="1" height="30" fill="#ff4500"/>
<rect x="1233" y="330" width="3" height="17" fill="#ff4500"/>
<rect x="1238" y="314" width="1" height="84" fill="#32cd32"/>
<rect x="1237" y="330" width="3" height="60" fill="#32cd32"/>
<rect x="1242" y="389" width="1" height="33" fill="#32cd32"/>
<rect x="1241" y="389" width="3" height="10" fill="#32cd32"/>
<rect x="1246" y="391" width="1" height="22" fill="#32cd32"/>
<rect x="1245" y="397" width="3" height="15" fill="#32cd32"/>
<rect x="1250" y="409" width="1" height="25" fill="#32cd32"/>
<rect x="1249" y="410" width="3" height="10" fill="#32cd32"/>
<rect x="1254" y="396" width="1" height="30" fill="#ff4500"/>
<rect x="1253" y="397" width="3" height="23" fill="#ff4500"/>
<rect x="1258" y="390" width="1" height="37" fill="#32cd32"/>
<rect x="1257" y="396" width="3" height="12" fill="#32cd32"/>
<rect x="1262" y="406" width="1" height="67" fill="#32cd32"/>
<rect x="1261" y="408" width="3" height="31" fill="#32cd32"/>
<rect x="1266" y="419" width="1" height="38" fill="#ff4500"/>
<rect x="1265" y="428" width="3" height="11" fill="#ff4500"/>
<rect x="1270" y="424" width="1" height="12" fill="#ff4500"/>
<rect x="1269" y="428" width="3" height="2" fill="#ff4500"/>
<rect x="1274" y="421" width="1" height="14" fill="#ff4500"/>
<rect x="1273" y="427" width="3" height="3" fill="#ff4500"/>
<rect x="1278" y="426" width="1" height="20" fill="#32cd32"/>
<rect x="1277" y="427" width="3" height="9" fill="#32cd32"/>
<rect x="1282" y="401" width="1" height="41" fill="#ff4500"/>
<rect x="1281" y="429" width="3" height="8" fill="#ff4500"/>
<rect x="1286" y="428" width="1" height="53" fill="#32cd32"/>
<rect x="1285" y="428" width="3" height="47" fill="#32cd32"/>
<rect x="1290" y="470" width="1" height="39" fill="#32cd32"/>
<rect x="1289" y="475" width="3" height="31" fill="#32cd32"/>
<rect x="1294" y="507" width="1" height="11" fill="#ff4500"/>
<rect x="1293" y="509" width="3" height="7" fill="#ff4500"/>
</g>
</g>
<path d="M1307.4 511L1325.2 485.2L1320 482.3L1336.8 475.8L1332.3 493.2L1330.3 488.6Z" fill="#ff2112"/>
<path d="M1336.5 475.5L1430.5 549.5L1429.5 543L1437.5 561.8L1417.5 557.2L1423.5 556.3Z" fill="#ff2112"/>
<text x="1280.3" y="367.8" font-size="33.5" fill="#ff2215" textLength="240" lengthAdjust="spacingAndGlyphs" style="font-family:'Liberation Sans','Noto Sans CJK SC',sans-serif">多空转折点2438</text>
<g shape-rendering="crispEdges">
<rect x="1626" y="68" width="2" height="1" fill="#000"/>
<rect x="1626" y="117" width="2" height="1" fill="#000"/>
<rect x="1626" y="166" width="2" height="1" fill="#000"/>
<rect x="1626" y="215" width="2" height="1" fill="#000"/>
<rect x="1626" y="264" width="2" height="1" fill="#000"/>
<rect x="1626" y="313" width="2" height="1" fill="#000"/>
<rect x="1626" y="362" width="2" height="1" fill="#000"/>
<rect x="1626" y="411" width="2" height="1" fill="#000"/>
<rect x="1626" y="460" width="2" height="1" fill="#000"/>
<rect x="1626" y="557" width="2" height="1" fill="#000"/>
<rect x="1626" y="633" width="2" height="1" fill="#000"/>
<rect x="1626" y="683" width="2" height="1" fill="#000"/>
<rect x="1626" y="721" width="2" height="1" fill="#000"/>
<path d="M10 633.5H1625" stroke="#c0c0c0" stroke-dasharray="3 3" fill="none"/>
<path d="M10 683.5H1625" stroke="#c0c0c0" stroke-dasharray="3 3" fill="none"/>
<rect x="1627" y="502" width="63" height="14" fill="#000"/>
<rect x="1627" y="369" width="63" height="14" fill="#ff0000"/>
<rect x="1627" y="435" width="63" height="14" fill="#ff0000"/>
<rect x="1627" y="470" width="63" height="14" fill="#00ff7f"/>
<rect x="1627" y="511" width="63" height="14" fill="#0000ff"/>
<rect x="10" y="723" width="1" height="3" fill="#000"/>
<rect x="106" y="723" width="1" height="3" fill="#000"/>
<rect x="202" y="723" width="1" height="3" fill="#000"/>
<rect x="298" y="723" width="1" height="3" fill="#000"/>
<rect x="394" y="723" width="1" height="3" fill="#000"/>
<rect x="490" y="723" width="1" height="3" fill="#000"/>
<rect x="586" y="723" width="1" height="3" fill="#000"/>
<rect x="682" y="723" width="1" height="3" fill="#000"/>
<rect x="778" y="723" width="1" height="3" fill="#000"/>
<rect x="874" y="723" width="1" height="3" fill="#000"/>
<rect x="970" y="723" width="1" height="3" fill="#000"/>
<rect x="1066" y="723" width="1" height="3" fill="#000"/>
<rect x="1162" y="723" width="1" height="3" fill="#000"/>
<rect x="1258" y="723" width="1" height="3" fill="#000"/>
</g>
<text x="1632" y="72.6" font-size="12.5" fill="#000" textLength="52.5" lengthAdjust="spacingAndGlyphs" stroke="#000" stroke-width="0.12">2814.325</text>
<text x="1632" y="121.6" font-size="12.5" fill="#000" textLength="52.5" lengthAdjust="spacingAndGlyphs" stroke="#000" stroke-width="0.12">2768.575</text>
<text x="1632" y="170.6" font-size="12.5" fill="#000" textLength="52.5" lengthAdjust="spacingAndGlyphs" stroke="#000" stroke-width="0.12">2723.740</text>
<text x="1632" y="219.6" font-size="12.5" fill="#000" textLength="52.5" lengthAdjust="spacingAndGlyphs" stroke="#000" stroke-width="0.12">2678.905</text>
<text x="1632" y="268.6" font-size="12.5" fill="#000" textLength="52.5" lengthAdjust="spacingAndGlyphs" stroke="#000" stroke-width="0.12">2633.155</text>
<text x="1632" y="317.6" font-size="12.5" fill="#000" textLength="52.5" lengthAdjust="spacingAndGlyphs" stroke="#000" stroke-width="0.12">2588.320</text>
<text x="1632" y="366.6" font-size="12.5" fill="#000" textLength="52.5" lengthAdjust="spacingAndGlyphs" stroke="#000" stroke-width="0.12">2543.485</text>
<text x="1632" y="415.6" font-size="12.5" fill="#000" textLength="52.5" lengthAdjust="spacingAndGlyphs" stroke="#000" stroke-width="0.12">2497.735</text>
<text x="1632" y="464.6" font-size="12.5" fill="#000" textLength="52.5" lengthAdjust="spacingAndGlyphs" stroke="#000" stroke-width="0.12">2452.900</text>
<text x="1632" y="514.2" font-size="12.5" fill="#fff" textLength="52.5" lengthAdjust="spacingAndGlyphs">2408.000</text>
<rect x="1627" y="511" width="63" height="14" fill="#0000ff"/>
<text x="1632" y="380.6" font-size="12.5" fill="#fff" textLength="52.5" lengthAdjust="spacingAndGlyphs">2530.771</text>
<text x="1632" y="446.6" font-size="12.5" fill="#fff" textLength="52.5" lengthAdjust="spacingAndGlyphs">2470.671</text>
<text x="1632" y="481.6" font-size="12.5" fill="#fff" textLength="52.5" lengthAdjust="spacingAndGlyphs">2438.491</text>
<text x="1632" y="523" font-size="12.5" fill="#fff" textLength="52.5" lengthAdjust="spacingAndGlyphs">2400.662</text>
<text x="1629" y="543.6" font-size="12.5" fill="#000" textLength="46" lengthAdjust="spacingAndGlyphs" stroke="#000" stroke-width="0.12">33.5542</text>
<text x="1629" y="561.6" font-size="12.5" fill="#000" textLength="25" lengthAdjust="spacingAndGlyphs" stroke="#000" stroke-width="0.12">0.00</text>
<text x="1629" y="587.6" font-size="12.5" fill="#000" textLength="49.6" lengthAdjust="spacingAndGlyphs" stroke="#000" stroke-width="0.12">-43.0509</text>
<text x="1629" y="606.9" font-size="12.5" fill="#000" textLength="21" lengthAdjust="spacingAndGlyphs" stroke="#000" stroke-width="0.12">100</text>
<text x="1629" y="637.6" font-size="12.5" fill="#000" textLength="14" lengthAdjust="spacingAndGlyphs" stroke="#000" stroke-width="0.12">70</text>
<text x="1629" y="687.6" font-size="12.5" fill="#000" textLength="14" lengthAdjust="spacingAndGlyphs" stroke="#000" stroke-width="0.12">30</text>
<text x="1630" y="718.6" font-size="12.5" fill="#000" textLength="6" lengthAdjust="spacingAndGlyphs" stroke="#000" stroke-width="0.12">0</text>
<text x="14" y="546" font-size="12.5" fill="#000" textLength="84" lengthAdjust="spacingAndGlyphs" stroke="#000" stroke-width="0.12">MACD(12,26,9)</text>
<text x="102.8" y="546" font-size="12.5" fill="#000" textLength="49.6" lengthAdjust="spacingAndGlyphs" stroke="#000" stroke-width="0.12">-38.3665</text>
<text x="157.2" y="546" font-size="12.5" fill="#000" textLength="49" lengthAdjust="spacingAndGlyphs" stroke="#000" stroke-width="0.12">-32.8134</text>
<text x="14" y="609" font-size="12.5" fill="#000" textLength="41.4" lengthAdjust="spacingAndGlyphs" stroke="#000" stroke-width="0.12">RSI(14)</text>
<text x="60.3" y="609" font-size="12.5" fill="#000" textLength="44.8" lengthAdjust="spacingAndGlyphs" stroke="#000" stroke-width="0.12">20.6332</text>
<path d="M13 45.5L17.6 41L22.3 45.5Z" fill="#000"/>
<text x="28" y="48" font-size="12.5" fill="#000" textLength="57.5" lengthAdjust="spacingAndGlyphs" stroke="#000" stroke-width="0.12">SP500-,H4</text>
<text x="94.4" y="48" font-size="12.5" fill="#000" textLength="51.5" lengthAdjust="spacingAndGlyphs" stroke="#000" stroke-width="0.12">2403.000</text>
<text x="151.4" y="48" font-size="12.5" fill="#000" textLength="51.5" lengthAdjust="spacingAndGlyphs" stroke="#000" stroke-width="0.12">2410.000</text>
<text x="208.4" y="48" font-size="12.5" fill="#000" textLength="51.5" lengthAdjust="spacingAndGlyphs" stroke="#000" stroke-width="0.12">2401.250</text>
<text x="265.6" y="48" font-size="12.5" fill="#000" textLength="51.5" lengthAdjust="spacingAndGlyphs" stroke="#000" stroke-width="0.12">2408.000</text>
<text x="8.7" y="738" font-size="12.5" fill="#000" textLength="70.6" lengthAdjust="spacingAndGlyphs" stroke="#000" stroke-width="0.12">10 Oct 2018</text>
<text x="104.7" y="738" font-size="12.5" fill="#000" textLength="75" lengthAdjust="spacingAndGlyphs" stroke="#000" stroke-width="0.12">16 Oct 16:00</text>
<text x="200.7" y="738" font-size="12.5" fill="#000" textLength="75" lengthAdjust="spacingAndGlyphs" stroke="#000" stroke-width="0.12">22 Oct 12:00</text>
<text x="296.7" y="738" font-size="12.5" fill="#000" textLength="75" lengthAdjust="spacingAndGlyphs" stroke="#000" stroke-width="0.12">26 Oct 12:00</text>
<text x="392.7" y="738" font-size="12.5" fill="#000" textLength="68.2" lengthAdjust="spacingAndGlyphs" stroke="#000" stroke-width="0.12">1 Nov 08:00</text>
<text x="488.7" y="738" font-size="12.5" fill="#000" textLength="68.2" lengthAdjust="spacingAndGlyphs" stroke="#000" stroke-width="0.12">7 Nov 04:00</text>
<text x="584.7" y="738" font-size="12.5" fill="#000" textLength="75" lengthAdjust="spacingAndGlyphs" stroke="#000" stroke-width="0.12">13 Nov 00:00</text>
<text x="680.7" y="738" font-size="12.5" fill="#000" textLength="75" lengthAdjust="spacingAndGlyphs" stroke="#000" stroke-width="0.12">18 Nov 23:00</text>
<text x="776.7" y="738" font-size="12.5" fill="#000" textLength="75" lengthAdjust="spacingAndGlyphs" stroke="#000" stroke-width="0.12">22 Nov 23:00</text>
<text x="872.7" y="738" font-size="12.5" fill="#000" textLength="75" lengthAdjust="spacingAndGlyphs" stroke="#000" stroke-width="0.12">28 Nov 20:00</text>
<text x="968.7" y="738" font-size="12.5" fill="#000" textLength="68.2" lengthAdjust="spacingAndGlyphs" stroke="#000" stroke-width="0.12">4 Dec 16:00</text>
<text x="1064.7" y="738" font-size="12.5" fill="#000" textLength="75" lengthAdjust="spacingAndGlyphs" stroke="#000" stroke-width="0.12">10 Dec 16:00</text>
<text x="1160.7" y="738" font-size="12.5" fill="#000" textLength="75" lengthAdjust="spacingAndGlyphs" stroke="#000" stroke-width="0.12">14 Dec 16:00</text>
<text x="1256.7" y="738" font-size="12.5" fill="#000" textLength="75" lengthAdjust="spacingAndGlyphs" stroke="#000" stroke-width="0.12">20 Dec 12:00</text>
<g clip-path="url(#c2)">
<g shape-rendering="crispEdges">
<rect x="10" y="557" width="1" height="16" fill="#c0c0c0"/>
<rect x="14" y="557" width="1" height="21" fill="#c0c0c0"/>
<rect x="18" y="557" width="1" height="24" fill="#c0c0c0"/>
<rect x="22" y="557" width="1" height="27" fill="#c0c0c0"/>
<rect x="26" y="557" width="1" height="28" fill="#c0c0c0"/>
<rect x="30" y="557" width="1" height="30" fill="#c0c0c0"/>
<rect x="34" y="557" width="1" height="31" fill="#c0c0c0"/>
<rect x="38" y="557" width="1" height="30" fill="#c0c0c0"/>
<rect x="42" y="557" width="1" height="29" fill="#c0c0c0"/>
<rect x="46" y="557" width="1" height="27" fill="#c0c0c0"/>
<rect x="50" y="557" width="1" height="26" fill="#c0c0c0"/>
<rect x="54" y="557" width="1" height="25" fill="#c0c0c0"/>
<rect x="58" y="557" width="1" height="24" fill="#c0c0c0"/>
<rect x="62" y="557" width="1" height="23" fill="#c0c0c0"/>
<rect x="66" y="557" width="1" height="22" fill="#c0c0c0"/>
<rect x="70" y="557" width="1" height="21" fill="#c0c0c0"/>
<rect x="74" y="557" width="1" height="21" fill="#c0c0c0"/>
<rect x="78" y="557" width="1" height="20" fill="#c0c0c0"/>
<rect x="82" y="557" width="1" height="20" fill="#c0c0c0"/>
<rect x="86" y="557" width="1" height="19" fill="#c0c0c0"/>
<rect x="90" y="557" width="1" height="18" fill="#c0c0c0"/>
<rect x="94" y="557" width="1" height="16" fill="#c0c0c0"/>
<rect x="98" y="557" width="1" height="16" fill="#c0c0c0"/>
<rect x="102" y="557" width="1" height="13" fill="#c0c0c0"/>
<rect x="106" y="557" width="1" height="9" fill="#c0c0c0"/>
<rect x="110" y="557" width="1" height="6" fill="#c0c0c0"/>
<rect x="114" y="557" width="1" height="3" fill="#c0c0c0"/>
<rect x="118" y="557" width="1" height="1" fill="#c0c0c0"/>
<rect x="130" y="556" width="1" height="1" fill="#c0c0c0"/>
<rect x="134" y="556" width="1" height="1" fill="#c0c0c0"/>
<rect x="138" y="556" width="1" height="1" fill="#c0c0c0"/>
<rect x="142" y="555" width="1" height="2" fill="#c0c0c0"/>
<rect x="146" y="556" width="1" height="1" fill="#c0c0c0"/>
<rect x="150" y="557" width="1" height="1" fill="#c0c0c0"/>
<rect x="154" y="557" width="1" height="1" fill="#c0c0c0"/>
<rect x="158" y="557" width="1" height="2" fill="#c0c0c0"/>
<rect x="162" y="557" width="1" height="3" fill="#c0c0c0"/>
<rect x="166" y="557" width="1" height="3" fill="#c0c0c0"/>
<rect x="170" y="557" width="1" height="2" fill="#c0c0c0"/>
<rect x="174" y="557" width="1" height="3" fill="#c0c0c0"/>
<rect x="178" y="557" width="1" height="3" fill="#c0c0c0"/>
<rect x="182" y="557" width="1" height="4" fill="#c0c0c0"/>
<rect x="186" y="557" width="1" height="6" fill="#c0c0c0"/>
<rect x="190" y="557" width="1" height="5" fill="#c0c0c0"/>
<rect x="194" y="557" width="1" height="6" fill="#c0c0c0"/>
<rect x="198" y="557" width="1" height="6" fill="#c0c0c0"/>
<rect x="202" y="557" width="1" height="6" fill="#c0c0c0"/>
<rect x="206" y="557" width="1" height="6" fill="#c0c0c0"/>
<rect x="210" y="557" width="1" height="7" fill="#c0c0c0"/>
<rect x="214" y="557" width="1" height="8" fill="#c0c0c0"/>
<rect x="218" y="557" width="1" height="10" fill="#c0c0c0"/>
<rect x="222" y="557" width="1" height="11" fill="#c0c0c0"/>
<rect x="226" y="557" width="1" height="13" fill="#c0c0c0"/>
<rect x="230" y="557" width="1" height="12" fill="#c0c0c0"/>
<rect x="234" y="557" width="1" height="11" fill="#c0c0c0"/>
<rect x="238" y="557" width="1" height="11" fill="#c0c0c0"/>
<rect x="242" y="557" width="1" height="11" fill="#c0c0c0"/>
<rect x="246" y="557" width="1" height="11" fill="#c0c0c0"/>
<rect x="250" y="557" width="1" height="12" fill="#c0c0c0"/>
<rect x="254" y="557" width="1" height="14" fill="#c0c0c0"/>
<rect x="258" y="557" width="1" height="16" fill="#c0c0c0"/>
<rect x="262" y="557" width="1" height="19" fill="#c0c0c0"/>
<rect x="266" y="557" width="1" height="19" fill="#c0c0c0"/>
<rect x="270" y="557" width="1" height="19" fill="#c0c0c0"/>
<rect x="274" y="557" width="1" height="18" fill="#c0c0c0"/>
<rect x="278" y="557" width="1" height="18" fill="#c0c0c0"/>
<rect x="282" y="557" width="1" height="18" fill="#c0c0c0"/>
<rect x="286" y="557" width="1" height="18" fill="#c0c0c0"/>
<rect x="290" y="557" width="1" height="18" fill="#c0c0c0"/>
<rect x="294" y="557" width="1" height="19" fill="#c0c0c0"/>
<rect x="298" y="557" width="1" height="19" fill="#c0c0c0"/>
<rect x="302" y="557" width="1" height="18" fill="#c0c0c0"/>
<rect x="306" y="557" width="1" height="17" fill="#c0c0c0"/>
<rect x="310" y="557" width="1" height="16" fill="#c0c0c0"/>
<rect x="314" y="557" width="1" height="16" fill="#c0c0c0"/>
<rect x="318" y="557" width="1" height="15" fill="#c0c0c0"/>
<rect x="322" y="557" width="1" height="14" fill="#c0c0c0"/>
<rect x="326" y="557" width="1" height="12" fill="#c0c0c0"/>
<rect x="330" y="557" width="1" height="12" fill="#c0c0c0"/>
<rect x="334" y="557" width="1" height="12" fill="#c0c0c0"/>
<rect x="338" y="557" width="1" height="12" fill="#c0c0c0"/>
<rect x="342" y="557" width="1" height="12" fill="#c0c0c0"/>
<rect x="346" y="557" width="1" height="12" fill="#c0c0c0"/>
<rect x="350" y="557" width="1" height="12" fill="#c0c0c0"/>
<rect x="354" y="557" width="1" height="11" fill="#c0c0c0"/>
<rect x="358" y="557" width="1" height="9" fill="#c0c0c0"/>
<rect x="362" y="557" width="1" height="6" fill="#c0c0c0"/>
<rect x="366" y="557" width="1" height="4" fill="#c0c0c0"/>
<rect x="370" y="557" width="1" height="1" fill="#c0c0c0"/>
<rect x="378" y="556" width="1" height="1" fill="#c0c0c0"/>
<rect x="382" y="555" width="1" height="2" fill="#c0c0c0"/>
<rect x="386" y="554" width="1" height="3" fill="#c0c0c0"/>
<rect x="390" y="553" width="1" height="4" fill="#c0c0c0"/>
<rect x="394" y="552" width="1" height="5" fill="#c0c0c0"/>
<rect x="398" y="551" width="1" height="6" fill="#c0c0c0"/>
<rect x="402" y="550" width="1" height="7" fill="#c0c0c0"/>
<rect x="406" y="549" width="1" height="8" fill="#c0c0c0"/>
<rect x="410" y="549" width="1" height="8" fill="#c0c0c0"/>
<rect x="414" y="547" width="1" height="10" fill="#c0c0c0"/>
<rect x="418" y="545" width="1" height="12" fill="#c0c0c0"/>
<rect x="422" y="546" width="1" height="11" fill="#c0c0c0"/>
<rect x="426" y="548" width="1" height="9" fill="#c0c0c0"/>
<rect x="430" y="549" width="1" height="8" fill="#c0c0c0"/>
<rect x="434" y="550" width="1" height="7" fill="#c0c0c0"/>
<rect x="438" y="551" width="1" height="6" fill="#c0c0c0"/>
<rect x="442" y="552" width="1" height="5" fill="#c0c0c0"/>
<rect x="446" y="553" width="1" height="4" fill="#c0c0c0"/>
<rect x="450" y="553" width="1" height="4" fill="#c0c0c0"/>
<rect x="454" y="552" width="1" height="5" fill="#c0c0c0"/>
<rect x="458" y="552" width="1" height="5" fill="#c0c0c0"/>
<rect x="462" y="551" width="1" height="6" fill="#c0c0c0"/>
<rect x="466" y="551" width="1" height="6" fill="#c0c0c0"/>
<rect x="470" y="552" width="1" height="5" fill="#c0c0c0"/>
<rect x="474" y="551" width="1" height="6" fill="#c0c0c0"/>
<rect x="478" y="551" width="1" height="6" fill="#c0c0c0"/>
<rect x="482" y="551" width="1" height="6" fill="#c0c0c0"/>
<rect x="486" y="550" width="1" height="7" fill="#c0c0c0"/>
<rect x="490" y="550" width="1" height="7" fill="#c0c0c0"/>
<rect x="494" y="548" width="1" height="9" fill="#c0c0c0"/>
<rect x="498" y="547" width="1" height="10" fill="#c0c0c0"/>
<rect x="502" y="545" width="1" height="12" fill="#c0c0c0"/>
<rect x="506" y="543" width="1" height="14" fill="#c0c0c0"/>
<rect x="510" y="541" width="1" height="16" fill="#c0c0c0"/>
<rect x="514" y="540" width="1" height="17" fill="#c0c0c0"/>
<rect x="518" y="540" width="1" height="17" fill="#c0c0c0"/>
<rect x="522" y="540" width="1" height="17" fill="#c0c0c0"/>
<rect x="526" y="540" width="1" height="17" fill="#c0c0c0"/>
<rect x="530" y="541" width="1" height="16" fill="#c0c0c0"/>
<rect x="534" y="542" width="1" height="15" fill="#c0c0c0"/>
<rect x="538" y="542" width="1" height="15" fill="#c0c0c0"/>
<rect x="542" y="544" width="1" height="13" fill="#c0c0c0"/>
<rect x="546" y="546" width="1" height="11" fill="#c0c0c0"/>
<rect x="550" y="548" width="1" height="9" fill="#c0c0c0"/>
<rect x="554" y="549" width="1" height="8" fill="#c0c0c0"/>
<rect x="558" y="550" width="1" height="7" fill="#c0c0c0"/>
<rect x="562" y="551" width="1" height="6" fill="#c0c0c0"/>
<rect x="566" y="552" width="1" height="5" fill="#c0c0c0"/>
<rect x="570" y="553" width="1" height="4" fill="#c0c0c0"/>
<rect x="574" y="555" width="1" height="2" fill="#c0c0c0"/>
<rect x="582" y="557" width="1" height="2" fill="#c0c0c0"/>
<rect x="586" y="557" width="1" height="4" fill="#c0c0c0"/>
<rect x="590" y="557" width="1" height="5" fill="#c0c0c0"/>
<rect x="594" y="557" width="1" height="6" fill="#c0c0c0"/>
<rect x="598" y="557" width="1" height="7" fill="#c0c0c0"/>
<rect x="602" y="557" width="1" height="7" fill="#c0c0c0"/>
<rect x="606" y="557" width="1" height="9" fill="#c0c0c0"/>
<rect x="610" y="557" width="1" height="9" fill="#c0c0c0"/>
<rect x="614" y="557" width="1" height="10" fill="#c0c0c0"/>
<rect x="618" y="557" width="1" height="9" fill="#c0c0c0"/>
<rect x="622" y="557" width="1" height="10" fill="#c0c0c0"/>
<rect x="626" y="557" width="1" height="11" fill="#c0c0c0"/>
<rect x="630" y="557" width="1" height="12" fill="#c0c0c0"/>
<rect x="634" y="557" width="1" height="12" fill="#c0c0c0"/>
<rect x="638" y="557" width="1" height="12" fill="#c0c0c0"/>
<rect x="642" y="557" width="1" height="12" fill="#c0c0c0"/>
<rect x="646" y="557" width="1" height="13" fill="#c0c0c0"/>
<rect x="650" y="557" width="1" height="12" fill="#c0c0c0"/>
<rect x="654" y="557" width="1" height="11" fill="#c0c0c0"/>
<rect x="658" y="557" width="1" height="10" fill="#c0c0c0"/>
<rect x="662" y="557" width="1" height="7" fill="#c0c0c0"/>
<rect x="666" y="557" width="1" height="7" fill="#c0c0c0"/>
<rect x="670" y="557" width="1" height="6" fill="#c0c0c0"/>
<rect x="674" y="557" width="1" height="5" fill="#c0c0c0"/>
<rect x="678" y="557" width="1" height="3" fill="#c0c0c0"/>
<rect x="682" y="557" width="1" height="2" fill="#c0c0c0"/>
<rect x="686" y="557" width="1" height="1" fill="#c0c0c0"/>
<rect x="690" y="557" width="1" height="1" fill="#c0c0c0"/>
<rect x="694" y="557" width="1" height="1" fill="#c0c0c0"/>
<rect x="698" y="557" width="1" height="1" fill="#c0c0c0"/>
<rect x="702" y="557" width="1" height="3" fill="#c0c0c0"/>
<rect x="706" y="557" width="1" height="4" fill="#c0c0c0"/>
<rect x="710" y="557" width="1" height="6" fill="#c0c0c0"/>
<rect x="714" y="557" width="1" height="7" fill="#c0c0c0"/>
<rect x="718" y="557" width="1" height="9" fill="#c0c0c0"/>
<rect x="722" y="557" width="1" height="10" fill="#c0c0c0"/>
<rect x="726" y="557" width="1" height="13" fill="#c0c0c0"/>
<rect x="730" y="557" width="1" height="15" fill="#c0c0c0"/>
<rect x="734" y="557" width="1" height="16" fill="#c0c0c0"/>
<rect x="738" y="557" width="1" height="17" fill="#c0c0c0"/>
<rect x="742" y="557" width="1" height="17" fill="#c0c0c0"/>
<rect x="746" y="557" width="1" height="17" fill="#c0c0c0"/>
<rect x="750" y="557" width="1" height="16" fill="#c0c0c0"/>
<rect x="754" y="557" width="1" height="16" fill="#c0c0c0"/>
<rect x="758" y="557" width="1" height="16" fill="#c0c0c0"/>
<rect x="762" y="557" width="1" height="16" fill="#c0c0c0"/>
<rect x="766" y="557" width="1" height="16" fill="#c0c0c0"/>
<rect x="770" y="557" width="1" height="16" fill="#c0c0c0"/>
<rect x="774" y="557" width="1" height="16" fill="#c0c0c0"/>
<rect x="778" y="557" width="1" height="16" fill="#c0c0c0"/>
<rect x="782" y="557" width="1" height="15" fill="#c0c0c0"/>
<rect x="786" y="557" width="1" height="15" fill="#c0c0c0"/>
<rect x="790" y="557" width="1" height="15" fill="#c0c0c0"/>
<rect x="794" y="557" width="1" height="14" fill="#c0c0c0"/>
<rect x="798" y="557" width="1" height="14" fill="#c0c0c0"/>
<rect x="802" y="557" width="1" height="13" fill="#c0c0c0"/>
<rect x="806" y="557" width="1" height="12" fill="#c0c0c0"/>
<rect x="810" y="557" width="1" height="10" fill="#c0c0c0"/>
<rect x="814" y="557" width="1" height="9" fill="#c0c0c0"/>
<rect x="818" y="557" width="1" height="7" fill="#c0c0c0"/>
<rect x="822" y="557" width="1" height="5" fill="#c0c0c0"/>
<rect x="826" y="557" width="1" height="3" fill="#c0c0c0"/>
<rect x="830" y="557" width="1" height="2" fill="#c0c0c0"/>
<rect x="834" y="557" width="1" height="1" fill="#c0c0c0"/>
<rect x="850" y="556" width="1" height="1" fill="#c0c0c0"/>
<rect x="854" y="555" width="1" height="2" fill="#c0c0c0"/>
<rect x="858" y="554" width="1" height="3" fill="#c0c0c0"/>
<rect x="862" y="554" width="1" height="3" fill="#c0c0c0"/>
<rect x="866" y="553" width="1" height="4" fill="#c0c0c0"/>
<rect x="870" y="552" width="1" height="5" fill="#c0c0c0"/>
<rect x="874" y="549" width="1" height="8" fill="#c0c0c0"/>
<rect x="878" y="546" width="1" height="11" fill="#c0c0c0"/>
<rect x="882" y="545" width="1" height="12" fill="#c0c0c0"/>
<rect x="886" y="544" width="1" height="13" fill="#c0c0c0"/>
<rect x="890" y="544" width="1" height="13" fill="#c0c0c0"/>
<rect x="894" y="543" width="1" height="14" fill="#c0c0c0"/>
<rect x="898" y="542" width="1" height="15" fill="#c0c0c0"/>
<rect x="902" y="542" width="1" height="15" fill="#c0c0c0"/>
<rect x="906" y="542" width="1" height="15" fill="#c0c0c0"/>
<rect x="910" y="543" width="1" height="14" fill="#c0c0c0"/>
<rect x="914" y="544" width="1" height="13" fill="#c0c0c0"/>
<rect x="918" y="544" width="1" height="13" fill="#c0c0c0"/>
<rect x="922" y="542" width="1" height="15" fill="#c0c0c0"/>
<rect x="926" y="540" width="1" height="17" fill="#c0c0c0"/>
<rect x="930" y="538" width="1" height="19" fill="#c0c0c0"/>
<rect x="934" y="536" width="1" height="21" fill="#c0c0c0"/>
<rect x="938" y="535" width="1" height="22" fill="#c0c0c0"/>
<rect x="942" y="536" width="1" height="21" fill="#c0c0c0"/>
<rect x="946" y="537" width="1" height="20" fill="#c0c0c0"/>
<rect x="950" y="538" width="1" height="19" fill="#c0c0c0"/>
<rect x="954" y="539" width="1" height="18" fill="#c0c0c0"/>
<rect x="958" y="541" width="1" height="16" fill="#c0c0c0"/>
<rect x="962" y="542" width="1" height="15" fill="#c0c0c0"/>
<rect x="966" y="543" width="1" height="14" fill="#c0c0c0"/>
<rect x="970" y="547" width="1" height="10" fill="#c0c0c0"/>
<rect x="974" y="552" width="1" height="5" fill="#c0c0c0"/>
<rect x="978" y="555" width="1" height="2" fill="#c0c0c0"/>
<rect x="986" y="557" width="1" height="2" fill="#c0c0c0"/>
<rect x="990" y="557" width="1" height="3" fill="#c0c0c0"/>
<rect x="994" y="557" width="1" height="5" fill="#c0c0c0"/>
<rect x="998" y="557" width="1" height="9" fill="#c0c0c0"/>
<rect x="1002" y="557" width="1" height="11" fill="#c0c0c0"/>
<rect x="1006" y="557" width="1" height="13" fill="#c0c0c0"/>
<rect x="1010" y="557" width="1" height="16" fill="#c0c0c0"/>
<rect x="1014" y="557" width="1" height="18" fill="#c0c0c0"/>
<rect x="1018" y="557" width="1" height="17" fill="#c0c0c0"/>
<rect x="1022" y="557" width="1" height="15" fill="#c0c0c0"/>
<rect x="1026" y="557" width="1" height="14" fill="#c0c0c0"/>
<rect x="1030" y="557" width="1" height="16" fill="#c0c0c0"/>
<rect x="1034" y="557" width="1" height="16" fill="#c0c0c0"/>
<rect x="1038" y="557" width="1" height="17" fill="#c0c0c0"/>
<rect x="1042" y="557" width="1" height="17" fill="#c0c0c0"/>
<rect x="1046" y="557" width="1" height="19" fill="#c0c0c0"/>
<rect x="1050" y="557" width="1" height="21" fill="#c0c0c0"/>
<rect x="1054" y="557" width="1" height="21" fill="#c0c0c0"/>
<rect x="1058" y="557" width="1" height="21" fill="#c0c0c0"/>
<rect x="1062" y="557" width="1" height="22" fill="#c0c0c0"/>
<rect x="1066" y="557" width="1" height="22" fill="#c0c0c0"/>
<rect x="1070" y="557" width="1" height="20" fill="#c0c0c0"/>
<rect x="1074" y="557" width="1" height="19" fill="#c0c0c0"/>
<rect x="1078" y="557" width="1" height="17" fill="#c0c0c0"/>
<rect x="1082" y="557" width="1" height="15" fill="#c0c0c0"/>
<rect x="1086" y="557" width="1" height="13" fill="#c0c0c0"/>
<rect x="1090" y="557" width="1" height="12" fill="#c0c0c0"/>
<rect x="1094" y="557" width="1" height="11" fill="#c0c0c0"/>
<rect x="1098" y="557" width="1" height="10" fill="#c0c0c0"/>
<rect x="1102" y="557" width="1" height="9" fill="#c0c0c0"/>
<rect x="1106" y="557" width="1" height="7" fill="#c0c0c0"/>
<rect x="1110" y="557" width="1" height="5" fill="#c0c0c0"/>
<rect x="1114" y="557" width="1" height="4" fill="#c0c0c0"/>
<rect x="1118" y="557" width="1" height="3" fill="#c0c0c0"/>
<rect x="1122" y="557" width="1" height="2" fill="#c0c0c0"/>
<rect x="1126" y="557" width="1" height="1" fill="#c0c0c0"/>
<rect x="1130" y="557" width="1" height="1" fill="#c0c0c0"/>
<rect x="1134" y="557" width="1" height="1" fill="#c0c0c0"/>
<rect x="1138" y="557" width="1" height="2" fill="#c0c0c0"/>
<rect x="1142" y="557" width="1" height="2" fill="#c0c0c0"/>
<rect x="1146" y="557" width="1" height="3" fill="#c0c0c0"/>
<rect x="1150" y="557" width="1" height="4" fill="#c0c0c0"/>
<rect x="1154" y="557" width="1" height="5" fill="#c0c0c0"/>
<rect x="1158" y="557" width="1" height="7" fill="#c0c0c0"/>
<rect x="1162" y="557" width="1" height="7" fill="#c0c0c0"/>
<rect x="1166" y="557" width="1" height="9" fill="#c0c0c0"/>
<rect x="1170" y="557" width="1" height="11" fill="#c0c0c0"/>
<rect x="1174" y="557" width="1" height="10" fill="#c0c0c0"/>
<rect x="1178" y="557" width="1" height="11" fill="#c0c0c0"/>
<rect x="1182" y="557" width="1" height="11" fill="#c0c0c0"/>
<rect x="1186" y="557" width="1" height="13" fill="#c0c0c0"/>
<rect x="1190" y="557" width="1" height="14" fill="#c0c0c0"/>
<rect x="1194" y="557" width="1" height="16" fill="#c0c0c0"/>
<rect x="1198" y="557" width="1" height="18" fill="#c0c0c0"/>
<rect x="1202" y="557" width="1" height="18" fill="#c0c0c0"/>
<rect x="1206" y="557" width="1" height="19" fill="#c0c0c0"/>
<rect x="1210" y="557" width="1" height="19" fill="#c0c0c0"/>
<rect x="1214" y="557" width="1" height="19" fill="#c0c0c0"/>
<rect x="1218" y="557" width="1" height="19" fill="#c0c0c0"/>
<rect x="1222" y="557" width="1" height="19" fill="#c0c0c0"/>
<rect x="1226" y="557" width="1" height="19" fill="#c0c0c0"/>
<rect x="1230" y="557" width="1" height="17" fill="#c0c0c0"/>
<rect x="1234" y="557" width="1" height="17" fill="#c0c0c0"/>
<rect x="1238" y="557" width="1" height="17" fill="#c0c0c0"/>
<rect x="1242" y="557" width="1" height="19" fill="#c0c0c0"/>
<rect x="1246" y="557" width="1" height="21" fill="#c0c0c0"/>
<rect x="1250" y="557" width="1" height="23" fill="#c0c0c0"/>
<rect x="1254" y="557" width="1" height="23" fill="#c0c0c0"/>
<rect x="1258" y="557" width="1" height="23" fill="#c0c0c0"/>
<rect x="1262" y="557" width="1" height="25" fill="#c0c0c0"/>
<rect x="1266" y="557" width="1" height="25" fill="#c0c0c0"/>
<rect x="1270" y="557" width="1" height="25" fill="#c0c0c0"/>
<rect x="1274" y="557" width="1" height="24" fill="#c0c0c0"/>
<rect x="1278" y="557" width="1" height="25" fill="#c0c0c0"/>
<rect x="1282" y="557" width="1" height="24" fill="#c0c0c0"/>
<rect x="1286" y="557" width="1" height="25" fill="#c0c0c0"/>
<rect x="1290" y="557" width="1" height="27" fill="#c0c0c0"/>
<rect x="1294" y="557" width="1" height="29" fill="#c0c0c0"/>
</g>
<path d="M10 565.5 L18 568.8 L26 572 L30 575.3 L34 579.8 L40 583 L46 584.6 L54 585.4 L60 585.4 L66 584.4 L72 582.4 L78 581 L84 580 L90 578.3 L96 576.6 L102 575.3 L108 573.3 L114 570.7 L120 567.5 L126 564.2 L132 561.6 L138 559 L144 557.4 L150 556.4 L156 556.2 L162 556.4 L168 557.7 L174 558.4 L180 559.4 L186 561 L192 561.6 L198 561.6 L204 562.6 L210 563.3 L216 563.3 L220 564.6 L227.8 565.5 L233.7 567.1 L239.5 567.1 L245.4 568.1 L251.2 569.1 L258 570.4 L264.9 570.6 L269.8 572.4 L276.6 573 L282.5 574.3 L287.3 575.5 L294.2 575.5 L299 576.3 L304.9 575.5 L317.6 575.3 L323.4 574.3 L329.3 573.3 L335.1 573 L341 571.4 L347.8 571 L353.7 570 L360.5 569.1 L366.4 568.1 L372.2 566.1 L377.7 563.6 L383.5 560.9 L389.4 558.7 L395.6 556 L401.5 553.8 L407.3 551.5 L413.2 550.1 L419.1 549.1 L424.9 548.2 L431.7 547.6 L437.6 547.6 L444.4 548.2 L450.3 549.5 L456.1 549.5 L462 551.1 L467.8 551.5 L473.7 551.5 L479.6 551.1 L485.4 550.5 L491.3 550.1 L497.1 549.5 L503 548.6 L508.8 546.2 L514.7 545.1 L520.5 543.7 L526.4 542.3 L532.2 540.4 L540 540.2 L545.9 541.7 L551.7 542.7 L557.6 544.3 L563.4 545.2 L569.3 547 L575.1 549.1 L581 551.1 L586.8 553.8 L592.7 556.4 L598.5 558.7 L605.4 561.3 L611.2 563.2 L617.1 565.2 L622.9 565.5 L628.8 567.1 L635.6 567.5 L641.5 568.5 L647.3 569.4 L659 569.4 L665.9 569.1 L670.8 568.1 L676.6 566.5 L683.4 564.6 L689.3 562.2 L695.2 561.3 L701 560.3 L707.8 560.3 L713.7 561.6 L719.5 562.2 L725.4 564.6 L731.3 566.5 L737.1 568.1 L743 570.4 L748.8 572 L754.7 573.3 L766.4 573.3 L774.2 573 L784 572.4 L791.8 572 L797.6 571.4 L803.5 571 L809.3 570.4 L815.2 569.1 L821 567.5 L826.9 566.5 L832.7 564.6 L838.6 563.8 L844.4 561.3 L850.3 559.3 L856.2 557.4 L862 556.4 L867.8 554.4 L874.6 553.4 L880.5 550.5 L887.3 549.1 L893.2 546.6 L899 545.1 L904.9 543.3 L911.7 542.7 L923.4 542.3 L929.3 541.1 L935.1 540.2 L941 539.4 L946.8 538.4 L952.7 537.4 L966.4 537.4 L971.2 539.2 L977.1 542.7 L983.9 545.6 L989.8 549.5 L995.6 553.8 L1001.5 557.3 L1007.3 562.2 L1013.2 565.7 L1019.1 568.1 L1024.9 570.6 L1030.8 572.4 L1037.6 573.3 L1043.5 573.3 L1049.3 574.3 L1055.2 575.3 L1061 575.9 L1066.9 576.5 L1072.7 577.4 L1079.6 577.3 L1085.4 576.3 L1091.3 575.3 L1097.1 573 L1103 571.4 L1108.8 569.1 L1114.7 567.1 L1120.5 564.6 L1126.4 563.8 L1132.3 561.6 L1139.1 560.7 L1145.9 560.3 L1151.7 560.3 L1157.6 561.3 L1163.4 561.3 L1169.3 563.2 L1175.1 564.6 L1181 566.1 L1186.8 567.1 L1192.7 568.7 L1199.5 570.4 L1205.4 572.4 L1211.2 573.3 L1217.1 574.9 L1222.9 576.3 L1241.5 576.3 L1248.3 576.5 L1254.2 577.4 L1260 577.8 L1265.9 578.4 L1271.7 579.2 L1277.6 581.2 L1284.4 581.4 L1290.3 582.7 L1294 583.2" fill="none" stroke="#ff0000" stroke-width="1" stroke-dasharray="3 3" shape-rendering="crispEdges"/>
</g>
<g clip-path="url(#c3)">
<path d="M10.3 697.9 L17.8 701.4 L22.6 695.9 L26.5 693.4 L30.4 699.4 L34.3 685.2 L37.3 680.7 L42.7 675 L50.5 680.3 L54.3 675.4 L63.6 675.4 L70.5 679.3 L74.4 673.5 L83.1 677.4 L90 675.4 L97.8 670.5 L101.7 655.9 L105.6 647.1 L109.5 644.2 L118.3 644.2 L122.2 651 L127 649.1 L131 649.1 L137.8 652.4 L142.7 649.1 L146.6 654 L150 670.5 L154.4 672.5 L158.3 671.5 L163.2 667.2 L167 667.2 L174.5 660.2 L178.4 670.5 L181.7 671.5 L186.6 676.4 L190.5 665.7 L198.3 661.2 L202.2 672.1 L207 672.5 L211 675.4 L214.9 682.3 L221.7 686.2 L226.2 692.4 L230.5 665.7 L234.4 664.1 L238.3 664.1 L242.6 672.1 L246.5 663.3 L250.4 670.5 L254.3 686.2 L258.8 683.2 L266.6 675 L270.5 676.4 L275.4 666.6 L278.3 665.1 L282.2 673.1 L286.7 677.4 L291 674.1 L294.9 676.4 L302.3 677.4 L306.6 670 L310.1 668.2 L314.4 671.5 L318.3 671.1 L322.2 659.2 L326.5 664.7 L330.4 675.4 L334.3 675.4 L338.2 668.6 L343.7 668.6 L346.6 669.6 L350.5 666.3 L354.4 656.5 L358.3 654 L362.2 653 L366.1 650 L371 646.7 L374.5 643.2 L378.8 646.2 L382.7 644.8 L386.6 642.2 L390.5 648.1 L395.4 642.8 L398.7 641.3 L402.6 637.4 L406.5 642.2 L410 643.2 L414.3 633.5 L418.2 632.1 L422.1 654 L425.6 655.3 L429.9 654.3 L435 658.4 L442.2 657.3 L446.7 652 L450.6 650 L454.5 646.5 L458.8 646.5 L462.7 647.5 L466.6 646.5 L470.5 652.4 L474.4 645.6 L478.7 648.5 L486.1 638.3 L491 640.3 L494.5 632.9 L498.2 630.5 L504.3 625.1 L509.5 623.3 L514.4 623.7 L518.3 632.1 L522.2 630.5 L526.1 638.3 L530 636.4 L533.9 637 L538.8 641.3 L542.3 646.2 L546.2 653.6 L550.5 657.3 L558.3 657.3 L562.2 648.5 L566.1 650.4 L570.4 659.8 L573.9 674.5 L577.8 677.4 L582.7 682.3 L586.6 674.8 L594 671.5 L598.3 675.4 L602.6 680.3 L606.7 671.1 L614.9 676.4 L617.9 677.4 L622.2 674.5 L626.6 678.7 L630.5 685.2 L634 686.6 L638.3 673.5 L642.3 675.4 L646.5 682.3 L650.4 660.4 L657.8 659.4 L662.1 660.8 L666.6 663.3 L670.5 656.9 L678.3 652.4 L682.2 657.3 L686.1 657.3 L690 655.3 L693.9 657.9 L697.8 666.6 L702.3 676 L710.5 678.4 L717.3 680.3 L722.2 686.2 L726.1 693 L730 694.6 L733.9 686.2 L737.8 680.7 L742.7 679.9 L745.6 676 L749.9 674.1 L754.4 679.3 L758.3 680.3 L762.8 679.3 L766.7 681.3 L771 685.6 L774.9 685.2 L778.8 679.3 L782.7 678.4 L786.6 679.3 L790.5 681.3 L794.4 676.4 L798.3 680.3 L807.1 669.6 L813.9 657.3 L818.8 650 L822.1 648.5 L826.6 656.5 L833.4 652.4 L838.3 655.3 L842.2 648.5 L846.7 646.2 L851 641.3 L854.5 642.2 L862.3 637.4 L866.2 641.3 L870.5 624.1 L874.8 621.2 L881.3 624.7 L890.4 633.1 L894.3 624.7 L898.4 635 L905.7 635.8 L910.5 644.2 L915.4 637.4 L922.2 631.5 L927.1 621.2 L934 619.4 L938.4 627.6 L942.2 641.3 L946.6 639.3 L950.5 639.7 L954.4 643.2 L958.7 645.2 L962.3 643.2 L966.5 651 L970.4 670.5 L974.9 674.8 L982.7 673.1 L990.1 670.2 L994.4 680.7 L998.7 685.6 L1002.6 679.7 L1010.4 689.1 L1014.5 674.1 L1018.8 664.1 L1022.7 666.3 L1026.6 671.1 L1034 667.6 L1038.3 680.3 L1042.2 677.8 L1047.1 681.3 L1051 681.3 L1057.8 675.4 L1062.7 682.3 L1067 669.6 L1070.9 667.2 L1075 669.2 L1078.3 667.2 L1082.8 658.4 L1086.7 658.4 L1090.6 663.1 L1094.5 665.3 L1098.8 660.2 L1102.7 662.4 L1110.5 651.6 L1114.8 656.5 L1118.7 658.3 L1122.6 656.5 L1126.1 655.3 L1130.4 662.4 L1133.9 660.4 L1138.8 663.3 L1142.7 663.7 L1146.6 669.2 L1154.4 672.1 L1158.3 670.2 L1162.2 678.4 L1166.1 679.3 L1174.5 674.5 L1181.7 677.8 L1186.2 680.7 L1190.5 691 L1194.4 688.5 L1198.3 688.1 L1206.1 684.2 L1210 684.6 L1214.5 692 L1218.4 685.2 L1222.3 679.3 L1226.6 679.3 L1230.5 674.1 L1234.8 665.7 L1238.3 683.2 L1242.6 685.6 L1246.2 688.1 L1250.4 689.5 L1254.3 678.7 L1258.3 680.7 L1262.7 687.1 L1266.6 683.6 L1274.4 682.3 L1278.3 684.2 L1282.3 680.7 L1286.2 689.5 L1290.4 695.3 L1294 695.5" fill="none" stroke="#1e90ff" stroke-width="1" shape-rendering="crispEdges"/>
</g>
<g shape-rendering="crispEdges">
<rect x="12" y="54" width="286" height="80" fill="#fff"/>
<rect x="13" y="56" width="68" height="28" fill="url(#gs)"/>
<rect x="229" y="56" width="67" height="28" fill="url(#gs)"/>
<rect x="13" y="56" width="68" height="1" fill="#c41414"/>
<rect x="13" y="56" width="1" height="28" fill="#c41414"/>
<rect x="80" y="56" width="1" height="26" fill="#c41414"/>
<rect x="229" y="56" width="67" height="1" fill="#c41414"/>
<rect x="229" y="56" width="1" height="26" fill="#c41414"/>
<rect x="295" y="56" width="1" height="28" fill="#c41414"/>
<rect x="13" y="84" width="141" height="48" fill="url(#gp)"/>
<rect x="156" y="84" width="140" height="48" fill="url(#gp)"/>
<rect x="13" y="83" width="68" height="1" fill="#e23a3a"/>
<rect x="229" y="83" width="67" height="1" fill="#e23a3a"/>
<rect x="81" y="83" width="73" height="1" fill="#c81818"/>
<rect x="156" y="83" width="73" height="1" fill="#c81818"/>
<rect x="17" y="82" width="60" height="1" fill="#a80808"/>
<rect x="17" y="83" width="60" height="1" fill="#ee6a6a"/>
<rect x="233" y="82" width="59" height="1" fill="#a80808"/>
<rect x="233" y="83" width="59" height="1" fill="#ee6a6a"/>
<rect x="13" y="131" width="141" height="1" fill="#a00000"/>
<rect x="156" y="131" width="140" height="1" fill="#a00000"/>
<rect x="13" y="84" width="1" height="48" fill="#b00c0c"/>
<rect x="156" y="84" width="1" height="48" fill="#b00c0c"/>
<rect x="153" y="84" width="1" height="48" fill="#b00c0c"/>
<rect x="295" y="84" width="1" height="48" fill="#b00c0c"/>
<rect x="83" y="57" width="143" height="25" fill="#b4b8c0"/>
<rect x="84" y="58" width="141" height="23" fill="#fff"/>
<rect x="84" y="58" width="22" height="23" fill="url(#gb)"/>
<rect x="106" y="58" width="1" height="23" fill="#b4b8c0"/>
<rect x="202" y="58" width="23" height="23" fill="url(#gb)"/>
<rect x="201" y="58" width="1" height="23" fill="#b4b8c0"/>
</g>
<path d="M91.5 67.5H99.5L95.5 71.5Z" fill="#4a5cb8"/>
<path d="M209.5 71H217.5L213.5 67Z" fill="#4a5cb8"/>
<text x="29.3" y="75" font-size="15" fill="#fff" textLength="34.5" lengthAdjust="spacingAndGlyphs">SELL</text>
<text x="246.4" y="75" font-size="15" fill="#fff" textLength="30.3" lengthAdjust="spacingAndGlyphs">BUY</text>
<text x="167.5" y="73.6" font-size="14.4" fill="#000" textLength="30.3" lengthAdjust="spacingAndGlyphs">1.00</text>
<text x="33.4" y="120.8" font-size="14" fill="#fff" textLength="36.6" lengthAdjust="spacingAndGlyphs" font-weight="bold">2407</text>
<text x="175.4" y="120.8" font-size="14" fill="#fff" textLength="37" lengthAdjust="spacingAndGlyphs" font-weight="bold">2408</text>
<text x="73.8" y="120.8" font-size="42" fill="#fff" textLength="45.6" lengthAdjust="spacingAndGlyphs">98</text>
<text x="216.4" y="120.8" font-size="42" fill="#fff" textLength="45.6" lengthAdjust="spacingAndGlyphs">76</text>
<text x="122.6" y="103.3" font-size="14.4" fill="#fff" textLength="9" lengthAdjust="spacingAndGlyphs" font-weight="bold">5</text>
<text x="265.8" y="103.3" font-size="14.4" fill="#fff" textLength="9" lengthAdjust="spacingAndGlyphs" font-weight="bold">5</text>
</svg>
</body></html>
